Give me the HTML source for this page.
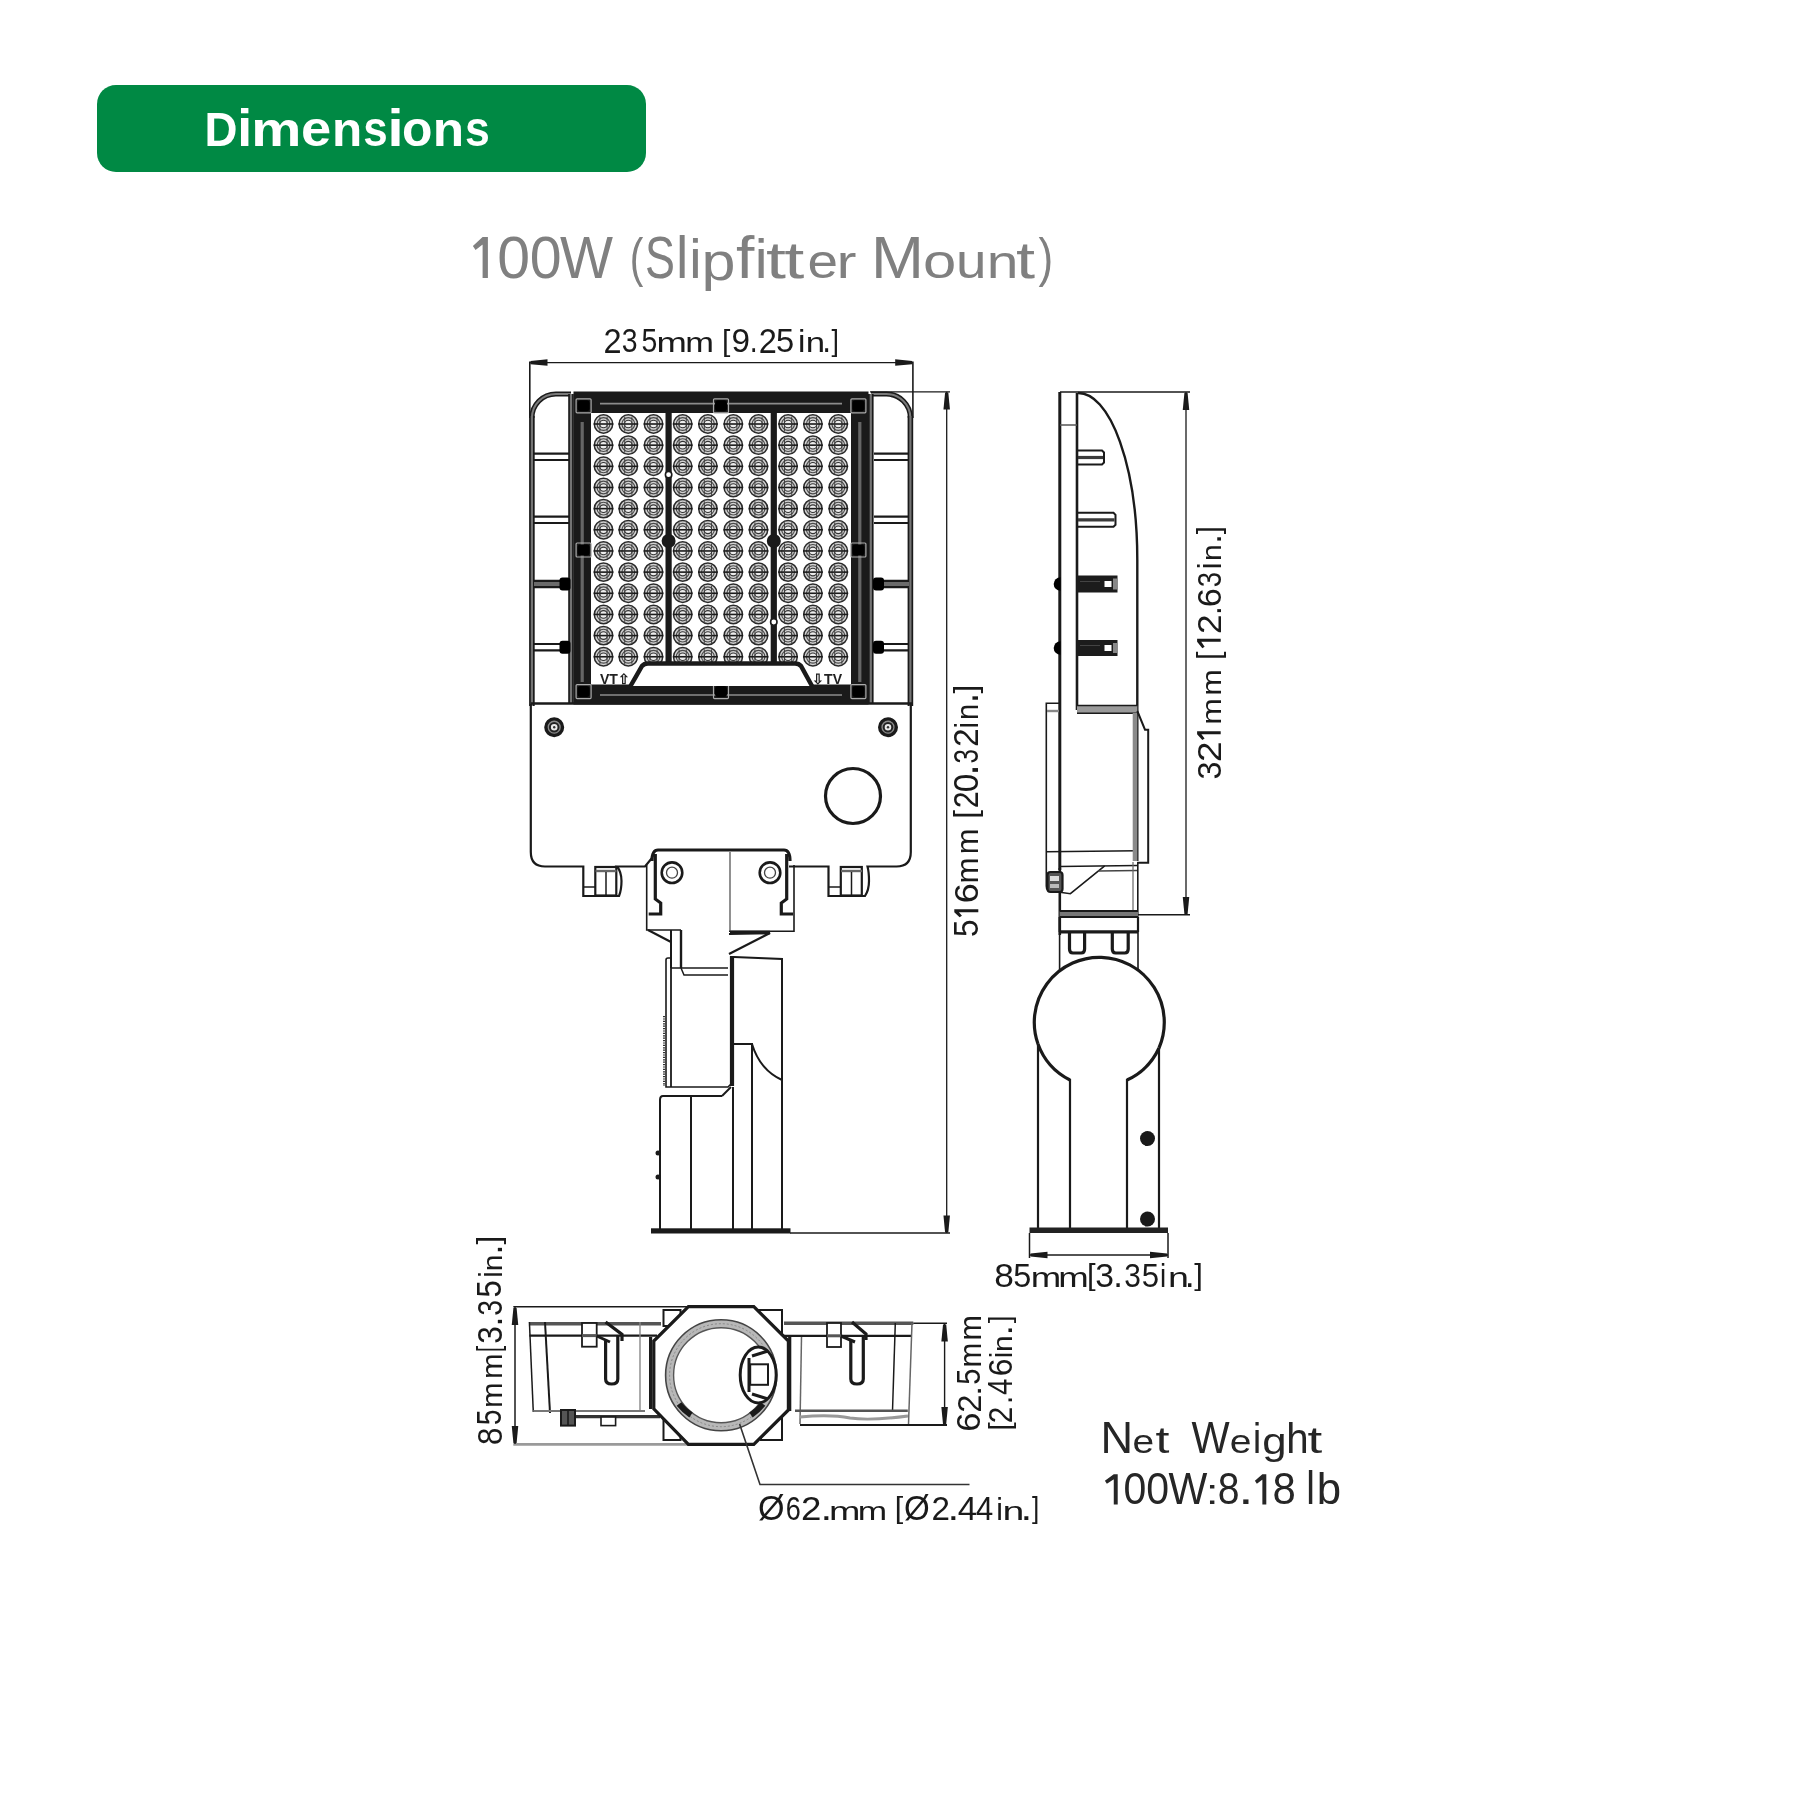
<!DOCTYPE html>
<html><head><meta charset="utf-8"><style>
html,body{margin:0;padding:0;background:#fff;}
body{width:1800px;height:1800px;position:relative;overflow:hidden;font-family:"Liberation Sans",sans-serif;}
.banner{position:absolute;left:97px;top:85px;width:549px;height:86.5px;background:#008944;border-radius:19px;}
.banner span{position:absolute;left:206px;top:0;color:#fff;}
svg{position:absolute;left:0;top:0;will-change:transform;}
</style></head><body>
<div class="banner"></div>
<svg width="1800" height="1800" viewBox="0 0 1800 1800" font-family="Liberation Sans, sans-serif">
<text x="0" y="0" font-size="1" fill="#fff" font-weight="bold" transform="matrix(45.691 0 0 47.971 204.43 145.50)">D</text>
<text x="0" y="0" font-size="1" fill="#fff" font-weight="bold" transform="matrix(53.571 0 0 51.448 237.25 145.50)">i</text>
<text x="0" y="0" font-size="1" fill="#fff" font-weight="bold" transform="matrix(56.340 0 0 48.889 251.24 145.50)">m</text>
<text x="0" y="0" font-size="1" fill="#fff" font-weight="bold" transform="matrix(54.375 0 0 49.455 301.02 145.51)">e</text>
<text x="0" y="0" font-size="1" fill="#fff" font-weight="bold" transform="matrix(49.485 0 0 48.889 332.08 145.50)">n</text>
<text x="0" y="0" font-size="1" fill="#fff" font-weight="bold" transform="matrix(43.958 0 0 49.818 363.36 145.50)">s</text>
<text x="0" y="0" font-size="1" fill="#fff" font-weight="bold" transform="matrix(57.857 0 0 51.448 387.55 145.50)">i</text>
<text x="0" y="0" font-size="1" fill="#fff" font-weight="bold" transform="matrix(49.811 0 0 49.455 402.11 145.51)">o</text>
<text x="0" y="0" font-size="1" fill="#fff" font-weight="bold" transform="matrix(51.340 0 0 48.889 432.76 145.50)">n</text>
<text x="0" y="0" font-size="1" fill="#fff" font-weight="bold" transform="matrix(44.583 0 0 49.818 465.04 145.50)">s</text>
<path d="M482.60 237.10 L487.90 237.10 L487.90 277.90 L482.60 277.90 Z M482.60 237.10 L486.84 241.34 L475.55 250.09 L472.90 246.12 Z" fill="#808080"/>
<text x="0" y="0" font-size="1" fill="#808080" transform="matrix(58.958 0 0 58.873 497.24 277.81)">0</text>
<text x="0" y="0" font-size="1" fill="#808080" transform="matrix(57.292 0 0 58.873 529.81 277.81)">0</text>
<text x="0" y="0" font-size="1" fill="#808080" transform="matrix(56.150 0 0 59.130 560.12 277.90)">W</text>
<text x="0" y="0" font-size="1" fill="#808080" transform="matrix(40.755 0 0 54.225 629.65 275.71)">(</text>
<text x="0" y="0" font-size="1" fill="#808080" transform="matrix(44.870 0 0 58.873 645.08 277.81)">S</text>
<text x="0" y="0" font-size="1" fill="#808080" transform="matrix(55.556 0 0 58.621 675.99 277.90)">l</text>
<text x="0" y="0" font-size="1" fill="#808080" transform="matrix(55.556 0 0 56.276 689.29 277.90)">i</text>
<text x="0" y="0" font-size="1" fill="#808080" transform="matrix(61.111 0 0 51.867 701.43 280.41)">p</text>
<text x="0" y="0" font-size="1" fill="#808080" transform="matrix(66.038 0 0 59.724 736.11 277.90)">f</text>
<text x="0" y="0" font-size="1" fill="#808080" transform="matrix(57.778 0 0 56.276 754.64 277.90)">i</text>
<text x="0" y="0" font-size="1" fill="#808080" transform="matrix(71.765 0 0 51.212 766.02 277.89)">t</text>
<text x="0" y="0" font-size="1" fill="#808080" transform="matrix(72.157 0 0 51.212 784.32 277.89)">t</text>
<text x="0" y="0" font-size="1" fill="#808080" transform="matrix(54.894 0 0 47.273 807.40 277.93)">e</text>
<text x="0" y="0" font-size="1" fill="#808080" transform="matrix(60.000 0 0 46.667 836.50 277.90)">r</text>
<text x="0" y="0" font-size="1" fill="#808080" transform="matrix(63.582 0 0 59.130 871.11 277.90)">M</text>
<text x="0" y="0" font-size="1" fill="#808080" transform="matrix(59.789 0 0 47.273 923.01 277.93)">o</text>
<text x="0" y="0" font-size="1" fill="#808080" transform="matrix(54.824 0 0 48.148 956.04 277.92)">u</text>
<text x="0" y="0" font-size="1" fill="#808080" transform="matrix(56.941 0 0 46.667 986.70 277.90)">n</text>
<text x="0" y="0" font-size="1" fill="#808080" transform="matrix(68.627 0 0 51.212 1016.07 277.89)">t</text>
<text x="0" y="0" font-size="1" fill="#808080" transform="matrix(44.151 0 0 54.225 1038.48 275.71)">)</text>
<text x="0" y="0" font-size="1" fill="#1a1a1a" transform="matrix(32.527 0 0 34.143 603.57 352.50)">2</text>
<text x="0" y="0" font-size="1" fill="#1a1a1a" transform="matrix(28.421 0 0 33.662 621.66 352.16)">3</text>
<text x="0" y="0" font-size="1" fill="#1a1a1a" transform="matrix(28.421 0 0 34.143 641.46 352.16)">5</text>
<text x="0" y="0" font-size="1" fill="#1a1a1a" transform="matrix(36.454 0 0 27.593 656.53 352.30)">m</text>
<text x="0" y="0" font-size="1" fill="#1a1a1a" transform="matrix(34.468 0 0 27.593 685.26 352.30)">m</text>
<text x="0" y="0" font-size="1" fill="#1a1a1a" transform="matrix(30.000 0 0 29.733 722.10 350.76)">[</text>
<text x="0" y="0" font-size="1" fill="#1a1a1a" transform="matrix(33.333 0 0 33.662 731.60 352.16)">9</text>
<text x="0" y="0" font-size="1" fill="#1a1a1a" transform="matrix(28.421 0 0 35.238 749.84 352.30)">.</text>
<text x="0" y="0" font-size="1" fill="#1a1a1a" transform="matrix(32.527 0 0 34.143 758.67 352.50)">2</text>
<text x="0" y="0" font-size="1" fill="#1a1a1a" transform="matrix(32.632 0 0 34.143 775.99 352.16)">5</text>
<text x="0" y="0" font-size="1" fill="#1a1a1a" transform="matrix(33.333 0 0 31.862 798.03 352.30)">i</text>
<text x="0" y="0" font-size="1" fill="#1a1a1a" transform="matrix(34.824 0 0 27.593 805.64 352.30)">n</text>
<text x="0" y="0" font-size="1" fill="#1a1a1a" transform="matrix(31.579 0 0 35.238 822.36 352.30)">.</text>
<text x="0" y="0" font-size="1" fill="#1a1a1a" transform="matrix(26.500 0 0 29.733 831.57 350.76)">]</text>
<line x1="529.8" y1="361.5" x2="529.8" y2="418" stroke="#1a1a1a" stroke-width="1.6"/>
<line x1="912.9" y1="361.5" x2="912.9" y2="418" stroke="#1a1a1a" stroke-width="1.6"/>
<line x1="529.8" y1="362.6" x2="912.9" y2="362.6" stroke="#1a1a1a" stroke-width="1.3"/>
<path d="M530.5 361.0 L530.5 364.20000000000005 L547.5 365.85 L547.5 359.35 Z" fill="#1a1a1a"/>
<path d="M912.2 361.0 L912.2 364.20000000000005 L895.2 365.85 L895.2 359.35 Z" fill="#1a1a1a"/>
<line x1="870" y1="391.8" x2="950" y2="391.8" stroke="#1a1a1a" stroke-width="1.3"/>
<line x1="946.7" y1="391.8" x2="946.7" y2="1233" stroke="#1a1a1a" stroke-width="1.3"/>
<path d="M945.1 392.5 L948.3000000000001 392.5 L949.95 409.5 L943.45 409.5 Z" fill="#1a1a1a"/>
<path d="M945.1 1232.5 L948.3000000000001 1232.5 L949.95 1215.5 L943.45 1215.5 Z" fill="#1a1a1a"/>
<line x1="790" y1="1233" x2="950" y2="1233" stroke="#1a1a1a" stroke-width="1.6"/>
<g transform="matrix(0 -1 1 0 0 0)">
<text x="0" y="0" font-size="1" fill="#1a1a1a" transform="matrix(31.368 0 0 34.286 -936.95 977.96)">5</text>
<path d="M-912.32 954.30 L-909.20 954.30 L-909.20 978.30 L-912.32 978.30 Z M-912.32 954.30 L-909.82 956.80 L-915.74 961.94 L-917.30 959.60 Z" fill="#1a1a1a"/>
<text x="0" y="0" font-size="1" fill="#1a1a1a" transform="matrix(35.914 0 0 34.085 -903.20 978.16)">6</text>
<text x="0" y="0" font-size="1" fill="#1a1a1a" transform="matrix(31.348 0 0 31.667 -883.54 978.30)">m</text>
<text x="0" y="0" font-size="1" fill="#1a1a1a" transform="matrix(30.922 0 0 31.667 -854.31 978.30)">m</text>
<text x="0" y="0" font-size="1" fill="#1a1a1a" transform="matrix(31.500 0 0 32.193 -818.81 975.84)">[</text>
<text x="0" y="0" font-size="1" fill="#1a1a1a" transform="matrix(30.549 0 0 34.286 -808.33 978.30)">2</text>
<text x="0" y="0" font-size="1" fill="#1a1a1a" transform="matrix(33.333 0 0 34.648 -792.23 978.25)">0</text>
<text x="0" y="0" font-size="1" fill="#1a1a1a" transform="matrix(40.000 0 0 51.429 -775.40 978.30)">.</text>
<text x="0" y="0" font-size="1" fill="#1a1a1a" transform="matrix(26.105 0 0 34.648 -763.44 978.25)">3</text>
<text x="0" y="0" font-size="1" fill="#1a1a1a" transform="matrix(33.626 0 0 34.286 -747.08 978.30)">2</text>
<text x="0" y="0" font-size="1" fill="#1a1a1a" transform="matrix(27.778 0 0 33.103 -728.21 978.30)">i</text>
<text x="0" y="0" font-size="1" fill="#1a1a1a" transform="matrix(29.176 0 0 31.667 -719.90 978.30)">n</text>
<text x="0" y="0" font-size="1" fill="#1a1a1a" transform="matrix(35.789 0 0 51.429 -703.12 978.30)">.</text>
<text x="0" y="0" font-size="1" fill="#1a1a1a" transform="matrix(31.000 0 0 32.193 -693.56 975.84)">]</text>
</g>
<path d="M531.9 418 A24 24 0 0 1 555.9 394 L571 394" stroke="#1a1a1a" stroke-width="5.2" fill="none"/>
<path d="M531.9 418 A24 24 0 0 1 555.9 394 L571 394" stroke="#7a7a7a" stroke-width="2.0" fill="none"/>
<path d="M910.4 418 A24 24 0 0 0 886.4 394 L871 394" stroke="#1a1a1a" stroke-width="5.2" fill="none"/>
<path d="M910.4 418 A24 24 0 0 0 886.4 394 L871 394" stroke="#7a7a7a" stroke-width="2.0" fill="none"/>
<line x1="531.9" y1="416" x2="531.9" y2="706" stroke="#1a1a1a" stroke-width="5.6"/>
<line x1="531.9" y1="416" x2="531.9" y2="706" stroke="#747474" stroke-width="2.2"/>
<line x1="910.4" y1="416" x2="910.4" y2="706" stroke="#1a1a1a" stroke-width="5.6"/>
<line x1="910.4" y1="416" x2="910.4" y2="706" stroke="#747474" stroke-width="2.2"/>
<line x1="571.0" y1="394" x2="571.0" y2="704" stroke="#1a1a1a" stroke-width="5.6"/>
<line x1="571.0" y1="394" x2="571.0" y2="704" stroke="#747474" stroke-width="2.2"/>
<line x1="870.8" y1="394" x2="870.8" y2="704" stroke="#1a1a1a" stroke-width="5.6"/>
<line x1="870.8" y1="394" x2="870.8" y2="704" stroke="#747474" stroke-width="2.2"/>
<line x1="534" y1="453.6" x2="569" y2="453.6" stroke="#1a1a1a" stroke-width="2.2"/>
<line x1="534" y1="460.0" x2="569" y2="460.0" stroke="#1a1a1a" stroke-width="2.2"/>
<line x1="874" y1="453.6" x2="909" y2="453.6" stroke="#1a1a1a" stroke-width="2.2"/>
<line x1="874" y1="460.0" x2="909" y2="460.0" stroke="#1a1a1a" stroke-width="2.2"/>
<line x1="534" y1="516.5999999999999" x2="569" y2="516.5999999999999" stroke="#1a1a1a" stroke-width="2.2"/>
<line x1="534" y1="523.0" x2="569" y2="523.0" stroke="#1a1a1a" stroke-width="2.2"/>
<line x1="874" y1="516.5999999999999" x2="909" y2="516.5999999999999" stroke="#1a1a1a" stroke-width="2.2"/>
<line x1="874" y1="523.0" x2="909" y2="523.0" stroke="#1a1a1a" stroke-width="2.2"/>
<rect x="534" y="580.5" width="35" height="7" rx="0" stroke="#1a1a1a" stroke-width="0" fill="#6a6a6a"/>
<rect x="874" y="580.5" width="35" height="7" rx="0" stroke="#1a1a1a" stroke-width="0" fill="#6a6a6a"/>
<line x1="534" y1="580.8" x2="569" y2="580.8" stroke="#1a1a1a" stroke-width="2.2"/>
<line x1="534" y1="587.2" x2="569" y2="587.2" stroke="#1a1a1a" stroke-width="2.2"/>
<line x1="874" y1="580.8" x2="909" y2="580.8" stroke="#1a1a1a" stroke-width="2.2"/>
<line x1="874" y1="587.2" x2="909" y2="587.2" stroke="#1a1a1a" stroke-width="2.2"/>
<line x1="534" y1="644.0" x2="569" y2="644.0" stroke="#1a1a1a" stroke-width="2.2"/>
<line x1="534" y1="650.4000000000001" x2="569" y2="650.4000000000001" stroke="#1a1a1a" stroke-width="2.2"/>
<line x1="874" y1="644.0" x2="909" y2="644.0" stroke="#1a1a1a" stroke-width="2.2"/>
<line x1="874" y1="650.4000000000001" x2="909" y2="650.4000000000001" stroke="#1a1a1a" stroke-width="2.2"/>
<rect x="559.5" y="577.5" width="11" height="13" rx="3" stroke="#1a1a1a" stroke-width="0" fill="#000"/>
<rect x="873" y="577.5" width="11" height="13" rx="3" stroke="#1a1a1a" stroke-width="0" fill="#000"/>
<rect x="559.5" y="640.7" width="11" height="13" rx="3" stroke="#1a1a1a" stroke-width="0" fill="#000"/>
<rect x="873" y="640.7" width="11" height="13" rx="3" stroke="#1a1a1a" stroke-width="0" fill="#000"/>
<line x1="531" y1="703.5" x2="912" y2="703.5" stroke="#1a1a1a" stroke-width="2.5"/>
<rect x="573.5" y="391.5" width="295" height="313" rx="0" stroke="#1a1a1a" stroke-width="0" fill="#1a1a1a"/>
<rect x="591" y="413" width="260" height="271.5" rx="0" stroke="#1a1a1a" stroke-width="0" fill="#fff"/>
<line x1="600" y1="403.6" x2="842" y2="403.6" stroke="#8c8c8c" stroke-width="1.6"/>
<line x1="600" y1="695" x2="842" y2="695" stroke="#8c8c8c" stroke-width="1.6"/>
<line x1="582.2" y1="422" x2="582.2" y2="682" stroke="#666" stroke-width="3.2"/>
<line x1="859.8" y1="422" x2="859.8" y2="682" stroke="#666" stroke-width="3.2"/>
<rect x="576.1" y="398.8" width="15" height="14" rx="1" stroke="#aaa" stroke-width="1.2" fill="none"/>
<rect x="577.6" y="400.3" width="12" height="11" rx="3" stroke="#1a1a1a" stroke-width="0" fill="#000"/>
<rect x="850.9" y="398.8" width="15" height="14" rx="1" stroke="#aaa" stroke-width="1.2" fill="none"/>
<rect x="852.4" y="400.3" width="12" height="11" rx="3" stroke="#1a1a1a" stroke-width="0" fill="#000"/>
<rect x="576.1" y="684.6" width="15" height="14" rx="1" stroke="#aaa" stroke-width="1.2" fill="none"/>
<rect x="577.6" y="686.1" width="12" height="11" rx="3" stroke="#1a1a1a" stroke-width="0" fill="#000"/>
<rect x="850.9" y="684.6" width="15" height="14" rx="1" stroke="#aaa" stroke-width="1.2" fill="none"/>
<rect x="852.4" y="686.1" width="12" height="11" rx="3" stroke="#1a1a1a" stroke-width="0" fill="#000"/>
<rect x="713.5" y="398.8" width="15" height="14" rx="1" stroke="#aaa" stroke-width="1.2" fill="none"/>
<rect x="715" y="400.3" width="12" height="11" rx="3" stroke="#1a1a1a" stroke-width="0" fill="#000"/>
<rect x="713.5" y="684.6" width="15" height="14" rx="1" stroke="#aaa" stroke-width="1.2" fill="none"/>
<rect x="715" y="686.1" width="12" height="11" rx="3" stroke="#1a1a1a" stroke-width="0" fill="#000"/>
<rect x="576.1" y="543" width="15" height="14" rx="1" stroke="#aaa" stroke-width="1.2" fill="none"/>
<rect x="577.6" y="544.5" width="12" height="11" rx="3" stroke="#1a1a1a" stroke-width="0" fill="#000"/>
<rect x="850.9" y="543" width="15" height="14" rx="1" stroke="#aaa" stroke-width="1.2" fill="none"/>
<rect x="852.4" y="544.5" width="12" height="11" rx="3" stroke="#1a1a1a" stroke-width="0" fill="#000"/>
<g transform="translate(603.5 424.00)"><circle r="9.2" fill="#d2d2d2" stroke="#2a2a2a" stroke-width="1.5"/><circle r="6.4" fill="none" stroke="#4a4a4a" stroke-width="1.1"/><circle r="3.8" fill="#ececec" stroke="#333" stroke-width="1.1"/><line x1="-9.8" y1="0" x2="9.8" y2="0" stroke="#1a1a1a" stroke-width="1.6"/><line x1="-3.6" y1="-7.5" x2="-3.6" y2="7.5" stroke="#3a3a3a" stroke-width="0.9"/><line x1="3.6" y1="-7.5" x2="3.6" y2="7.5" stroke="#3a3a3a" stroke-width="0.9"/></g>
<g transform="translate(628.3 424.00)"><circle r="9.2" fill="#d2d2d2" stroke="#2a2a2a" stroke-width="1.5"/><circle r="6.4" fill="none" stroke="#4a4a4a" stroke-width="1.1"/><circle r="3.8" fill="#ececec" stroke="#333" stroke-width="1.1"/><line x1="-9.8" y1="0" x2="9.8" y2="0" stroke="#1a1a1a" stroke-width="1.6"/><line x1="-3.6" y1="-7.5" x2="-3.6" y2="7.5" stroke="#3a3a3a" stroke-width="0.9"/><line x1="3.6" y1="-7.5" x2="3.6" y2="7.5" stroke="#3a3a3a" stroke-width="0.9"/></g>
<g transform="translate(653.5 424.00)"><circle r="9.2" fill="#d2d2d2" stroke="#2a2a2a" stroke-width="1.5"/><circle r="6.4" fill="none" stroke="#4a4a4a" stroke-width="1.1"/><circle r="3.8" fill="#ececec" stroke="#333" stroke-width="1.1"/><line x1="-9.8" y1="0" x2="9.8" y2="0" stroke="#1a1a1a" stroke-width="1.6"/><line x1="-3.6" y1="-7.5" x2="-3.6" y2="7.5" stroke="#3a3a3a" stroke-width="0.9"/><line x1="3.6" y1="-7.5" x2="3.6" y2="7.5" stroke="#3a3a3a" stroke-width="0.9"/></g>
<g transform="translate(682.7 424.00)"><circle r="9.2" fill="#d2d2d2" stroke="#2a2a2a" stroke-width="1.5"/><circle r="6.4" fill="none" stroke="#4a4a4a" stroke-width="1.1"/><circle r="3.8" fill="#ececec" stroke="#333" stroke-width="1.1"/><line x1="-9.8" y1="0" x2="9.8" y2="0" stroke="#1a1a1a" stroke-width="1.6"/><line x1="-3.6" y1="-7.5" x2="-3.6" y2="7.5" stroke="#3a3a3a" stroke-width="0.9"/><line x1="3.6" y1="-7.5" x2="3.6" y2="7.5" stroke="#3a3a3a" stroke-width="0.9"/></g>
<g transform="translate(707.9 424.00)"><circle r="9.2" fill="#d2d2d2" stroke="#2a2a2a" stroke-width="1.5"/><circle r="6.4" fill="none" stroke="#4a4a4a" stroke-width="1.1"/><circle r="3.8" fill="#ececec" stroke="#333" stroke-width="1.1"/><line x1="-9.8" y1="0" x2="9.8" y2="0" stroke="#1a1a1a" stroke-width="1.6"/><line x1="-3.6" y1="-7.5" x2="-3.6" y2="7.5" stroke="#3a3a3a" stroke-width="0.9"/><line x1="3.6" y1="-7.5" x2="3.6" y2="7.5" stroke="#3a3a3a" stroke-width="0.9"/></g>
<g transform="translate(733.3 424.00)"><circle r="9.2" fill="#d2d2d2" stroke="#2a2a2a" stroke-width="1.5"/><circle r="6.4" fill="none" stroke="#4a4a4a" stroke-width="1.1"/><circle r="3.8" fill="#ececec" stroke="#333" stroke-width="1.1"/><line x1="-9.8" y1="0" x2="9.8" y2="0" stroke="#1a1a1a" stroke-width="1.6"/><line x1="-3.6" y1="-7.5" x2="-3.6" y2="7.5" stroke="#3a3a3a" stroke-width="0.9"/><line x1="3.6" y1="-7.5" x2="3.6" y2="7.5" stroke="#3a3a3a" stroke-width="0.9"/></g>
<g transform="translate(758.5 424.00)"><circle r="9.2" fill="#d2d2d2" stroke="#2a2a2a" stroke-width="1.5"/><circle r="6.4" fill="none" stroke="#4a4a4a" stroke-width="1.1"/><circle r="3.8" fill="#ececec" stroke="#333" stroke-width="1.1"/><line x1="-9.8" y1="0" x2="9.8" y2="0" stroke="#1a1a1a" stroke-width="1.6"/><line x1="-3.6" y1="-7.5" x2="-3.6" y2="7.5" stroke="#3a3a3a" stroke-width="0.9"/><line x1="3.6" y1="-7.5" x2="3.6" y2="7.5" stroke="#3a3a3a" stroke-width="0.9"/></g>
<g transform="translate(788.1 424.00)"><circle r="9.2" fill="#d2d2d2" stroke="#2a2a2a" stroke-width="1.5"/><circle r="6.4" fill="none" stroke="#4a4a4a" stroke-width="1.1"/><circle r="3.8" fill="#ececec" stroke="#333" stroke-width="1.1"/><line x1="-9.8" y1="0" x2="9.8" y2="0" stroke="#1a1a1a" stroke-width="1.6"/><line x1="-3.6" y1="-7.5" x2="-3.6" y2="7.5" stroke="#3a3a3a" stroke-width="0.9"/><line x1="3.6" y1="-7.5" x2="3.6" y2="7.5" stroke="#3a3a3a" stroke-width="0.9"/></g>
<g transform="translate(812.9 424.00)"><circle r="9.2" fill="#d2d2d2" stroke="#2a2a2a" stroke-width="1.5"/><circle r="6.4" fill="none" stroke="#4a4a4a" stroke-width="1.1"/><circle r="3.8" fill="#ececec" stroke="#333" stroke-width="1.1"/><line x1="-9.8" y1="0" x2="9.8" y2="0" stroke="#1a1a1a" stroke-width="1.6"/><line x1="-3.6" y1="-7.5" x2="-3.6" y2="7.5" stroke="#3a3a3a" stroke-width="0.9"/><line x1="3.6" y1="-7.5" x2="3.6" y2="7.5" stroke="#3a3a3a" stroke-width="0.9"/></g>
<g transform="translate(838.3 424.00)"><circle r="9.2" fill="#d2d2d2" stroke="#2a2a2a" stroke-width="1.5"/><circle r="6.4" fill="none" stroke="#4a4a4a" stroke-width="1.1"/><circle r="3.8" fill="#ececec" stroke="#333" stroke-width="1.1"/><line x1="-9.8" y1="0" x2="9.8" y2="0" stroke="#1a1a1a" stroke-width="1.6"/><line x1="-3.6" y1="-7.5" x2="-3.6" y2="7.5" stroke="#3a3a3a" stroke-width="0.9"/><line x1="3.6" y1="-7.5" x2="3.6" y2="7.5" stroke="#3a3a3a" stroke-width="0.9"/></g>
<g transform="translate(603.5 445.16)"><circle r="9.2" fill="#d2d2d2" stroke="#2a2a2a" stroke-width="1.5"/><circle r="6.4" fill="none" stroke="#4a4a4a" stroke-width="1.1"/><circle r="3.8" fill="#ececec" stroke="#333" stroke-width="1.1"/><line x1="-9.8" y1="0" x2="9.8" y2="0" stroke="#1a1a1a" stroke-width="1.6"/><line x1="-3.6" y1="-7.5" x2="-3.6" y2="7.5" stroke="#3a3a3a" stroke-width="0.9"/><line x1="3.6" y1="-7.5" x2="3.6" y2="7.5" stroke="#3a3a3a" stroke-width="0.9"/></g>
<g transform="translate(628.3 445.16)"><circle r="9.2" fill="#d2d2d2" stroke="#2a2a2a" stroke-width="1.5"/><circle r="6.4" fill="none" stroke="#4a4a4a" stroke-width="1.1"/><circle r="3.8" fill="#ececec" stroke="#333" stroke-width="1.1"/><line x1="-9.8" y1="0" x2="9.8" y2="0" stroke="#1a1a1a" stroke-width="1.6"/><line x1="-3.6" y1="-7.5" x2="-3.6" y2="7.5" stroke="#3a3a3a" stroke-width="0.9"/><line x1="3.6" y1="-7.5" x2="3.6" y2="7.5" stroke="#3a3a3a" stroke-width="0.9"/></g>
<g transform="translate(653.5 445.16)"><circle r="9.2" fill="#d2d2d2" stroke="#2a2a2a" stroke-width="1.5"/><circle r="6.4" fill="none" stroke="#4a4a4a" stroke-width="1.1"/><circle r="3.8" fill="#ececec" stroke="#333" stroke-width="1.1"/><line x1="-9.8" y1="0" x2="9.8" y2="0" stroke="#1a1a1a" stroke-width="1.6"/><line x1="-3.6" y1="-7.5" x2="-3.6" y2="7.5" stroke="#3a3a3a" stroke-width="0.9"/><line x1="3.6" y1="-7.5" x2="3.6" y2="7.5" stroke="#3a3a3a" stroke-width="0.9"/></g>
<g transform="translate(682.7 445.16)"><circle r="9.2" fill="#d2d2d2" stroke="#2a2a2a" stroke-width="1.5"/><circle r="6.4" fill="none" stroke="#4a4a4a" stroke-width="1.1"/><circle r="3.8" fill="#ececec" stroke="#333" stroke-width="1.1"/><line x1="-9.8" y1="0" x2="9.8" y2="0" stroke="#1a1a1a" stroke-width="1.6"/><line x1="-3.6" y1="-7.5" x2="-3.6" y2="7.5" stroke="#3a3a3a" stroke-width="0.9"/><line x1="3.6" y1="-7.5" x2="3.6" y2="7.5" stroke="#3a3a3a" stroke-width="0.9"/></g>
<g transform="translate(707.9 445.16)"><circle r="9.2" fill="#d2d2d2" stroke="#2a2a2a" stroke-width="1.5"/><circle r="6.4" fill="none" stroke="#4a4a4a" stroke-width="1.1"/><circle r="3.8" fill="#ececec" stroke="#333" stroke-width="1.1"/><line x1="-9.8" y1="0" x2="9.8" y2="0" stroke="#1a1a1a" stroke-width="1.6"/><line x1="-3.6" y1="-7.5" x2="-3.6" y2="7.5" stroke="#3a3a3a" stroke-width="0.9"/><line x1="3.6" y1="-7.5" x2="3.6" y2="7.5" stroke="#3a3a3a" stroke-width="0.9"/></g>
<g transform="translate(733.3 445.16)"><circle r="9.2" fill="#d2d2d2" stroke="#2a2a2a" stroke-width="1.5"/><circle r="6.4" fill="none" stroke="#4a4a4a" stroke-width="1.1"/><circle r="3.8" fill="#ececec" stroke="#333" stroke-width="1.1"/><line x1="-9.8" y1="0" x2="9.8" y2="0" stroke="#1a1a1a" stroke-width="1.6"/><line x1="-3.6" y1="-7.5" x2="-3.6" y2="7.5" stroke="#3a3a3a" stroke-width="0.9"/><line x1="3.6" y1="-7.5" x2="3.6" y2="7.5" stroke="#3a3a3a" stroke-width="0.9"/></g>
<g transform="translate(758.5 445.16)"><circle r="9.2" fill="#d2d2d2" stroke="#2a2a2a" stroke-width="1.5"/><circle r="6.4" fill="none" stroke="#4a4a4a" stroke-width="1.1"/><circle r="3.8" fill="#ececec" stroke="#333" stroke-width="1.1"/><line x1="-9.8" y1="0" x2="9.8" y2="0" stroke="#1a1a1a" stroke-width="1.6"/><line x1="-3.6" y1="-7.5" x2="-3.6" y2="7.5" stroke="#3a3a3a" stroke-width="0.9"/><line x1="3.6" y1="-7.5" x2="3.6" y2="7.5" stroke="#3a3a3a" stroke-width="0.9"/></g>
<g transform="translate(788.1 445.16)"><circle r="9.2" fill="#d2d2d2" stroke="#2a2a2a" stroke-width="1.5"/><circle r="6.4" fill="none" stroke="#4a4a4a" stroke-width="1.1"/><circle r="3.8" fill="#ececec" stroke="#333" stroke-width="1.1"/><line x1="-9.8" y1="0" x2="9.8" y2="0" stroke="#1a1a1a" stroke-width="1.6"/><line x1="-3.6" y1="-7.5" x2="-3.6" y2="7.5" stroke="#3a3a3a" stroke-width="0.9"/><line x1="3.6" y1="-7.5" x2="3.6" y2="7.5" stroke="#3a3a3a" stroke-width="0.9"/></g>
<g transform="translate(812.9 445.16)"><circle r="9.2" fill="#d2d2d2" stroke="#2a2a2a" stroke-width="1.5"/><circle r="6.4" fill="none" stroke="#4a4a4a" stroke-width="1.1"/><circle r="3.8" fill="#ececec" stroke="#333" stroke-width="1.1"/><line x1="-9.8" y1="0" x2="9.8" y2="0" stroke="#1a1a1a" stroke-width="1.6"/><line x1="-3.6" y1="-7.5" x2="-3.6" y2="7.5" stroke="#3a3a3a" stroke-width="0.9"/><line x1="3.6" y1="-7.5" x2="3.6" y2="7.5" stroke="#3a3a3a" stroke-width="0.9"/></g>
<g transform="translate(838.3 445.16)"><circle r="9.2" fill="#d2d2d2" stroke="#2a2a2a" stroke-width="1.5"/><circle r="6.4" fill="none" stroke="#4a4a4a" stroke-width="1.1"/><circle r="3.8" fill="#ececec" stroke="#333" stroke-width="1.1"/><line x1="-9.8" y1="0" x2="9.8" y2="0" stroke="#1a1a1a" stroke-width="1.6"/><line x1="-3.6" y1="-7.5" x2="-3.6" y2="7.5" stroke="#3a3a3a" stroke-width="0.9"/><line x1="3.6" y1="-7.5" x2="3.6" y2="7.5" stroke="#3a3a3a" stroke-width="0.9"/></g>
<g transform="translate(603.5 466.32)"><circle r="9.2" fill="#d2d2d2" stroke="#2a2a2a" stroke-width="1.5"/><circle r="6.4" fill="none" stroke="#4a4a4a" stroke-width="1.1"/><circle r="3.8" fill="#ececec" stroke="#333" stroke-width="1.1"/><line x1="-9.8" y1="0" x2="9.8" y2="0" stroke="#1a1a1a" stroke-width="1.6"/><line x1="-3.6" y1="-7.5" x2="-3.6" y2="7.5" stroke="#3a3a3a" stroke-width="0.9"/><line x1="3.6" y1="-7.5" x2="3.6" y2="7.5" stroke="#3a3a3a" stroke-width="0.9"/></g>
<g transform="translate(628.3 466.32)"><circle r="9.2" fill="#d2d2d2" stroke="#2a2a2a" stroke-width="1.5"/><circle r="6.4" fill="none" stroke="#4a4a4a" stroke-width="1.1"/><circle r="3.8" fill="#ececec" stroke="#333" stroke-width="1.1"/><line x1="-9.8" y1="0" x2="9.8" y2="0" stroke="#1a1a1a" stroke-width="1.6"/><line x1="-3.6" y1="-7.5" x2="-3.6" y2="7.5" stroke="#3a3a3a" stroke-width="0.9"/><line x1="3.6" y1="-7.5" x2="3.6" y2="7.5" stroke="#3a3a3a" stroke-width="0.9"/></g>
<g transform="translate(653.5 466.32)"><circle r="9.2" fill="#d2d2d2" stroke="#2a2a2a" stroke-width="1.5"/><circle r="6.4" fill="none" stroke="#4a4a4a" stroke-width="1.1"/><circle r="3.8" fill="#ececec" stroke="#333" stroke-width="1.1"/><line x1="-9.8" y1="0" x2="9.8" y2="0" stroke="#1a1a1a" stroke-width="1.6"/><line x1="-3.6" y1="-7.5" x2="-3.6" y2="7.5" stroke="#3a3a3a" stroke-width="0.9"/><line x1="3.6" y1="-7.5" x2="3.6" y2="7.5" stroke="#3a3a3a" stroke-width="0.9"/></g>
<g transform="translate(682.7 466.32)"><circle r="9.2" fill="#d2d2d2" stroke="#2a2a2a" stroke-width="1.5"/><circle r="6.4" fill="none" stroke="#4a4a4a" stroke-width="1.1"/><circle r="3.8" fill="#ececec" stroke="#333" stroke-width="1.1"/><line x1="-9.8" y1="0" x2="9.8" y2="0" stroke="#1a1a1a" stroke-width="1.6"/><line x1="-3.6" y1="-7.5" x2="-3.6" y2="7.5" stroke="#3a3a3a" stroke-width="0.9"/><line x1="3.6" y1="-7.5" x2="3.6" y2="7.5" stroke="#3a3a3a" stroke-width="0.9"/></g>
<g transform="translate(707.9 466.32)"><circle r="9.2" fill="#d2d2d2" stroke="#2a2a2a" stroke-width="1.5"/><circle r="6.4" fill="none" stroke="#4a4a4a" stroke-width="1.1"/><circle r="3.8" fill="#ececec" stroke="#333" stroke-width="1.1"/><line x1="-9.8" y1="0" x2="9.8" y2="0" stroke="#1a1a1a" stroke-width="1.6"/><line x1="-3.6" y1="-7.5" x2="-3.6" y2="7.5" stroke="#3a3a3a" stroke-width="0.9"/><line x1="3.6" y1="-7.5" x2="3.6" y2="7.5" stroke="#3a3a3a" stroke-width="0.9"/></g>
<g transform="translate(733.3 466.32)"><circle r="9.2" fill="#d2d2d2" stroke="#2a2a2a" stroke-width="1.5"/><circle r="6.4" fill="none" stroke="#4a4a4a" stroke-width="1.1"/><circle r="3.8" fill="#ececec" stroke="#333" stroke-width="1.1"/><line x1="-9.8" y1="0" x2="9.8" y2="0" stroke="#1a1a1a" stroke-width="1.6"/><line x1="-3.6" y1="-7.5" x2="-3.6" y2="7.5" stroke="#3a3a3a" stroke-width="0.9"/><line x1="3.6" y1="-7.5" x2="3.6" y2="7.5" stroke="#3a3a3a" stroke-width="0.9"/></g>
<g transform="translate(758.5 466.32)"><circle r="9.2" fill="#d2d2d2" stroke="#2a2a2a" stroke-width="1.5"/><circle r="6.4" fill="none" stroke="#4a4a4a" stroke-width="1.1"/><circle r="3.8" fill="#ececec" stroke="#333" stroke-width="1.1"/><line x1="-9.8" y1="0" x2="9.8" y2="0" stroke="#1a1a1a" stroke-width="1.6"/><line x1="-3.6" y1="-7.5" x2="-3.6" y2="7.5" stroke="#3a3a3a" stroke-width="0.9"/><line x1="3.6" y1="-7.5" x2="3.6" y2="7.5" stroke="#3a3a3a" stroke-width="0.9"/></g>
<g transform="translate(788.1 466.32)"><circle r="9.2" fill="#d2d2d2" stroke="#2a2a2a" stroke-width="1.5"/><circle r="6.4" fill="none" stroke="#4a4a4a" stroke-width="1.1"/><circle r="3.8" fill="#ececec" stroke="#333" stroke-width="1.1"/><line x1="-9.8" y1="0" x2="9.8" y2="0" stroke="#1a1a1a" stroke-width="1.6"/><line x1="-3.6" y1="-7.5" x2="-3.6" y2="7.5" stroke="#3a3a3a" stroke-width="0.9"/><line x1="3.6" y1="-7.5" x2="3.6" y2="7.5" stroke="#3a3a3a" stroke-width="0.9"/></g>
<g transform="translate(812.9 466.32)"><circle r="9.2" fill="#d2d2d2" stroke="#2a2a2a" stroke-width="1.5"/><circle r="6.4" fill="none" stroke="#4a4a4a" stroke-width="1.1"/><circle r="3.8" fill="#ececec" stroke="#333" stroke-width="1.1"/><line x1="-9.8" y1="0" x2="9.8" y2="0" stroke="#1a1a1a" stroke-width="1.6"/><line x1="-3.6" y1="-7.5" x2="-3.6" y2="7.5" stroke="#3a3a3a" stroke-width="0.9"/><line x1="3.6" y1="-7.5" x2="3.6" y2="7.5" stroke="#3a3a3a" stroke-width="0.9"/></g>
<g transform="translate(838.3 466.32)"><circle r="9.2" fill="#d2d2d2" stroke="#2a2a2a" stroke-width="1.5"/><circle r="6.4" fill="none" stroke="#4a4a4a" stroke-width="1.1"/><circle r="3.8" fill="#ececec" stroke="#333" stroke-width="1.1"/><line x1="-9.8" y1="0" x2="9.8" y2="0" stroke="#1a1a1a" stroke-width="1.6"/><line x1="-3.6" y1="-7.5" x2="-3.6" y2="7.5" stroke="#3a3a3a" stroke-width="0.9"/><line x1="3.6" y1="-7.5" x2="3.6" y2="7.5" stroke="#3a3a3a" stroke-width="0.9"/></g>
<g transform="translate(603.5 487.48)"><circle r="9.2" fill="#d2d2d2" stroke="#2a2a2a" stroke-width="1.5"/><circle r="6.4" fill="none" stroke="#4a4a4a" stroke-width="1.1"/><circle r="3.8" fill="#ececec" stroke="#333" stroke-width="1.1"/><line x1="-9.8" y1="0" x2="9.8" y2="0" stroke="#1a1a1a" stroke-width="1.6"/><line x1="-3.6" y1="-7.5" x2="-3.6" y2="7.5" stroke="#3a3a3a" stroke-width="0.9"/><line x1="3.6" y1="-7.5" x2="3.6" y2="7.5" stroke="#3a3a3a" stroke-width="0.9"/></g>
<g transform="translate(628.3 487.48)"><circle r="9.2" fill="#d2d2d2" stroke="#2a2a2a" stroke-width="1.5"/><circle r="6.4" fill="none" stroke="#4a4a4a" stroke-width="1.1"/><circle r="3.8" fill="#ececec" stroke="#333" stroke-width="1.1"/><line x1="-9.8" y1="0" x2="9.8" y2="0" stroke="#1a1a1a" stroke-width="1.6"/><line x1="-3.6" y1="-7.5" x2="-3.6" y2="7.5" stroke="#3a3a3a" stroke-width="0.9"/><line x1="3.6" y1="-7.5" x2="3.6" y2="7.5" stroke="#3a3a3a" stroke-width="0.9"/></g>
<g transform="translate(653.5 487.48)"><circle r="9.2" fill="#d2d2d2" stroke="#2a2a2a" stroke-width="1.5"/><circle r="6.4" fill="none" stroke="#4a4a4a" stroke-width="1.1"/><circle r="3.8" fill="#ececec" stroke="#333" stroke-width="1.1"/><line x1="-9.8" y1="0" x2="9.8" y2="0" stroke="#1a1a1a" stroke-width="1.6"/><line x1="-3.6" y1="-7.5" x2="-3.6" y2="7.5" stroke="#3a3a3a" stroke-width="0.9"/><line x1="3.6" y1="-7.5" x2="3.6" y2="7.5" stroke="#3a3a3a" stroke-width="0.9"/></g>
<g transform="translate(682.7 487.48)"><circle r="9.2" fill="#d2d2d2" stroke="#2a2a2a" stroke-width="1.5"/><circle r="6.4" fill="none" stroke="#4a4a4a" stroke-width="1.1"/><circle r="3.8" fill="#ececec" stroke="#333" stroke-width="1.1"/><line x1="-9.8" y1="0" x2="9.8" y2="0" stroke="#1a1a1a" stroke-width="1.6"/><line x1="-3.6" y1="-7.5" x2="-3.6" y2="7.5" stroke="#3a3a3a" stroke-width="0.9"/><line x1="3.6" y1="-7.5" x2="3.6" y2="7.5" stroke="#3a3a3a" stroke-width="0.9"/></g>
<g transform="translate(707.9 487.48)"><circle r="9.2" fill="#d2d2d2" stroke="#2a2a2a" stroke-width="1.5"/><circle r="6.4" fill="none" stroke="#4a4a4a" stroke-width="1.1"/><circle r="3.8" fill="#ececec" stroke="#333" stroke-width="1.1"/><line x1="-9.8" y1="0" x2="9.8" y2="0" stroke="#1a1a1a" stroke-width="1.6"/><line x1="-3.6" y1="-7.5" x2="-3.6" y2="7.5" stroke="#3a3a3a" stroke-width="0.9"/><line x1="3.6" y1="-7.5" x2="3.6" y2="7.5" stroke="#3a3a3a" stroke-width="0.9"/></g>
<g transform="translate(733.3 487.48)"><circle r="9.2" fill="#d2d2d2" stroke="#2a2a2a" stroke-width="1.5"/><circle r="6.4" fill="none" stroke="#4a4a4a" stroke-width="1.1"/><circle r="3.8" fill="#ececec" stroke="#333" stroke-width="1.1"/><line x1="-9.8" y1="0" x2="9.8" y2="0" stroke="#1a1a1a" stroke-width="1.6"/><line x1="-3.6" y1="-7.5" x2="-3.6" y2="7.5" stroke="#3a3a3a" stroke-width="0.9"/><line x1="3.6" y1="-7.5" x2="3.6" y2="7.5" stroke="#3a3a3a" stroke-width="0.9"/></g>
<g transform="translate(758.5 487.48)"><circle r="9.2" fill="#d2d2d2" stroke="#2a2a2a" stroke-width="1.5"/><circle r="6.4" fill="none" stroke="#4a4a4a" stroke-width="1.1"/><circle r="3.8" fill="#ececec" stroke="#333" stroke-width="1.1"/><line x1="-9.8" y1="0" x2="9.8" y2="0" stroke="#1a1a1a" stroke-width="1.6"/><line x1="-3.6" y1="-7.5" x2="-3.6" y2="7.5" stroke="#3a3a3a" stroke-width="0.9"/><line x1="3.6" y1="-7.5" x2="3.6" y2="7.5" stroke="#3a3a3a" stroke-width="0.9"/></g>
<g transform="translate(788.1 487.48)"><circle r="9.2" fill="#d2d2d2" stroke="#2a2a2a" stroke-width="1.5"/><circle r="6.4" fill="none" stroke="#4a4a4a" stroke-width="1.1"/><circle r="3.8" fill="#ececec" stroke="#333" stroke-width="1.1"/><line x1="-9.8" y1="0" x2="9.8" y2="0" stroke="#1a1a1a" stroke-width="1.6"/><line x1="-3.6" y1="-7.5" x2="-3.6" y2="7.5" stroke="#3a3a3a" stroke-width="0.9"/><line x1="3.6" y1="-7.5" x2="3.6" y2="7.5" stroke="#3a3a3a" stroke-width="0.9"/></g>
<g transform="translate(812.9 487.48)"><circle r="9.2" fill="#d2d2d2" stroke="#2a2a2a" stroke-width="1.5"/><circle r="6.4" fill="none" stroke="#4a4a4a" stroke-width="1.1"/><circle r="3.8" fill="#ececec" stroke="#333" stroke-width="1.1"/><line x1="-9.8" y1="0" x2="9.8" y2="0" stroke="#1a1a1a" stroke-width="1.6"/><line x1="-3.6" y1="-7.5" x2="-3.6" y2="7.5" stroke="#3a3a3a" stroke-width="0.9"/><line x1="3.6" y1="-7.5" x2="3.6" y2="7.5" stroke="#3a3a3a" stroke-width="0.9"/></g>
<g transform="translate(838.3 487.48)"><circle r="9.2" fill="#d2d2d2" stroke="#2a2a2a" stroke-width="1.5"/><circle r="6.4" fill="none" stroke="#4a4a4a" stroke-width="1.1"/><circle r="3.8" fill="#ececec" stroke="#333" stroke-width="1.1"/><line x1="-9.8" y1="0" x2="9.8" y2="0" stroke="#1a1a1a" stroke-width="1.6"/><line x1="-3.6" y1="-7.5" x2="-3.6" y2="7.5" stroke="#3a3a3a" stroke-width="0.9"/><line x1="3.6" y1="-7.5" x2="3.6" y2="7.5" stroke="#3a3a3a" stroke-width="0.9"/></g>
<g transform="translate(603.5 508.64)"><circle r="9.2" fill="#d2d2d2" stroke="#2a2a2a" stroke-width="1.5"/><circle r="6.4" fill="none" stroke="#4a4a4a" stroke-width="1.1"/><circle r="3.8" fill="#ececec" stroke="#333" stroke-width="1.1"/><line x1="-9.8" y1="0" x2="9.8" y2="0" stroke="#1a1a1a" stroke-width="1.6"/><line x1="-3.6" y1="-7.5" x2="-3.6" y2="7.5" stroke="#3a3a3a" stroke-width="0.9"/><line x1="3.6" y1="-7.5" x2="3.6" y2="7.5" stroke="#3a3a3a" stroke-width="0.9"/></g>
<g transform="translate(628.3 508.64)"><circle r="9.2" fill="#d2d2d2" stroke="#2a2a2a" stroke-width="1.5"/><circle r="6.4" fill="none" stroke="#4a4a4a" stroke-width="1.1"/><circle r="3.8" fill="#ececec" stroke="#333" stroke-width="1.1"/><line x1="-9.8" y1="0" x2="9.8" y2="0" stroke="#1a1a1a" stroke-width="1.6"/><line x1="-3.6" y1="-7.5" x2="-3.6" y2="7.5" stroke="#3a3a3a" stroke-width="0.9"/><line x1="3.6" y1="-7.5" x2="3.6" y2="7.5" stroke="#3a3a3a" stroke-width="0.9"/></g>
<g transform="translate(653.5 508.64)"><circle r="9.2" fill="#d2d2d2" stroke="#2a2a2a" stroke-width="1.5"/><circle r="6.4" fill="none" stroke="#4a4a4a" stroke-width="1.1"/><circle r="3.8" fill="#ececec" stroke="#333" stroke-width="1.1"/><line x1="-9.8" y1="0" x2="9.8" y2="0" stroke="#1a1a1a" stroke-width="1.6"/><line x1="-3.6" y1="-7.5" x2="-3.6" y2="7.5" stroke="#3a3a3a" stroke-width="0.9"/><line x1="3.6" y1="-7.5" x2="3.6" y2="7.5" stroke="#3a3a3a" stroke-width="0.9"/></g>
<g transform="translate(682.7 508.64)"><circle r="9.2" fill="#d2d2d2" stroke="#2a2a2a" stroke-width="1.5"/><circle r="6.4" fill="none" stroke="#4a4a4a" stroke-width="1.1"/><circle r="3.8" fill="#ececec" stroke="#333" stroke-width="1.1"/><line x1="-9.8" y1="0" x2="9.8" y2="0" stroke="#1a1a1a" stroke-width="1.6"/><line x1="-3.6" y1="-7.5" x2="-3.6" y2="7.5" stroke="#3a3a3a" stroke-width="0.9"/><line x1="3.6" y1="-7.5" x2="3.6" y2="7.5" stroke="#3a3a3a" stroke-width="0.9"/></g>
<g transform="translate(707.9 508.64)"><circle r="9.2" fill="#d2d2d2" stroke="#2a2a2a" stroke-width="1.5"/><circle r="6.4" fill="none" stroke="#4a4a4a" stroke-width="1.1"/><circle r="3.8" fill="#ececec" stroke="#333" stroke-width="1.1"/><line x1="-9.8" y1="0" x2="9.8" y2="0" stroke="#1a1a1a" stroke-width="1.6"/><line x1="-3.6" y1="-7.5" x2="-3.6" y2="7.5" stroke="#3a3a3a" stroke-width="0.9"/><line x1="3.6" y1="-7.5" x2="3.6" y2="7.5" stroke="#3a3a3a" stroke-width="0.9"/></g>
<g transform="translate(733.3 508.64)"><circle r="9.2" fill="#d2d2d2" stroke="#2a2a2a" stroke-width="1.5"/><circle r="6.4" fill="none" stroke="#4a4a4a" stroke-width="1.1"/><circle r="3.8" fill="#ececec" stroke="#333" stroke-width="1.1"/><line x1="-9.8" y1="0" x2="9.8" y2="0" stroke="#1a1a1a" stroke-width="1.6"/><line x1="-3.6" y1="-7.5" x2="-3.6" y2="7.5" stroke="#3a3a3a" stroke-width="0.9"/><line x1="3.6" y1="-7.5" x2="3.6" y2="7.5" stroke="#3a3a3a" stroke-width="0.9"/></g>
<g transform="translate(758.5 508.64)"><circle r="9.2" fill="#d2d2d2" stroke="#2a2a2a" stroke-width="1.5"/><circle r="6.4" fill="none" stroke="#4a4a4a" stroke-width="1.1"/><circle r="3.8" fill="#ececec" stroke="#333" stroke-width="1.1"/><line x1="-9.8" y1="0" x2="9.8" y2="0" stroke="#1a1a1a" stroke-width="1.6"/><line x1="-3.6" y1="-7.5" x2="-3.6" y2="7.5" stroke="#3a3a3a" stroke-width="0.9"/><line x1="3.6" y1="-7.5" x2="3.6" y2="7.5" stroke="#3a3a3a" stroke-width="0.9"/></g>
<g transform="translate(788.1 508.64)"><circle r="9.2" fill="#d2d2d2" stroke="#2a2a2a" stroke-width="1.5"/><circle r="6.4" fill="none" stroke="#4a4a4a" stroke-width="1.1"/><circle r="3.8" fill="#ececec" stroke="#333" stroke-width="1.1"/><line x1="-9.8" y1="0" x2="9.8" y2="0" stroke="#1a1a1a" stroke-width="1.6"/><line x1="-3.6" y1="-7.5" x2="-3.6" y2="7.5" stroke="#3a3a3a" stroke-width="0.9"/><line x1="3.6" y1="-7.5" x2="3.6" y2="7.5" stroke="#3a3a3a" stroke-width="0.9"/></g>
<g transform="translate(812.9 508.64)"><circle r="9.2" fill="#d2d2d2" stroke="#2a2a2a" stroke-width="1.5"/><circle r="6.4" fill="none" stroke="#4a4a4a" stroke-width="1.1"/><circle r="3.8" fill="#ececec" stroke="#333" stroke-width="1.1"/><line x1="-9.8" y1="0" x2="9.8" y2="0" stroke="#1a1a1a" stroke-width="1.6"/><line x1="-3.6" y1="-7.5" x2="-3.6" y2="7.5" stroke="#3a3a3a" stroke-width="0.9"/><line x1="3.6" y1="-7.5" x2="3.6" y2="7.5" stroke="#3a3a3a" stroke-width="0.9"/></g>
<g transform="translate(838.3 508.64)"><circle r="9.2" fill="#d2d2d2" stroke="#2a2a2a" stroke-width="1.5"/><circle r="6.4" fill="none" stroke="#4a4a4a" stroke-width="1.1"/><circle r="3.8" fill="#ececec" stroke="#333" stroke-width="1.1"/><line x1="-9.8" y1="0" x2="9.8" y2="0" stroke="#1a1a1a" stroke-width="1.6"/><line x1="-3.6" y1="-7.5" x2="-3.6" y2="7.5" stroke="#3a3a3a" stroke-width="0.9"/><line x1="3.6" y1="-7.5" x2="3.6" y2="7.5" stroke="#3a3a3a" stroke-width="0.9"/></g>
<g transform="translate(603.5 529.80)"><circle r="9.2" fill="#d2d2d2" stroke="#2a2a2a" stroke-width="1.5"/><circle r="6.4" fill="none" stroke="#4a4a4a" stroke-width="1.1"/><circle r="3.8" fill="#ececec" stroke="#333" stroke-width="1.1"/><line x1="-9.8" y1="0" x2="9.8" y2="0" stroke="#1a1a1a" stroke-width="1.6"/><line x1="-3.6" y1="-7.5" x2="-3.6" y2="7.5" stroke="#3a3a3a" stroke-width="0.9"/><line x1="3.6" y1="-7.5" x2="3.6" y2="7.5" stroke="#3a3a3a" stroke-width="0.9"/></g>
<g transform="translate(628.3 529.80)"><circle r="9.2" fill="#d2d2d2" stroke="#2a2a2a" stroke-width="1.5"/><circle r="6.4" fill="none" stroke="#4a4a4a" stroke-width="1.1"/><circle r="3.8" fill="#ececec" stroke="#333" stroke-width="1.1"/><line x1="-9.8" y1="0" x2="9.8" y2="0" stroke="#1a1a1a" stroke-width="1.6"/><line x1="-3.6" y1="-7.5" x2="-3.6" y2="7.5" stroke="#3a3a3a" stroke-width="0.9"/><line x1="3.6" y1="-7.5" x2="3.6" y2="7.5" stroke="#3a3a3a" stroke-width="0.9"/></g>
<g transform="translate(653.5 529.80)"><circle r="9.2" fill="#d2d2d2" stroke="#2a2a2a" stroke-width="1.5"/><circle r="6.4" fill="none" stroke="#4a4a4a" stroke-width="1.1"/><circle r="3.8" fill="#ececec" stroke="#333" stroke-width="1.1"/><line x1="-9.8" y1="0" x2="9.8" y2="0" stroke="#1a1a1a" stroke-width="1.6"/><line x1="-3.6" y1="-7.5" x2="-3.6" y2="7.5" stroke="#3a3a3a" stroke-width="0.9"/><line x1="3.6" y1="-7.5" x2="3.6" y2="7.5" stroke="#3a3a3a" stroke-width="0.9"/></g>
<g transform="translate(682.7 529.80)"><circle r="9.2" fill="#d2d2d2" stroke="#2a2a2a" stroke-width="1.5"/><circle r="6.4" fill="none" stroke="#4a4a4a" stroke-width="1.1"/><circle r="3.8" fill="#ececec" stroke="#333" stroke-width="1.1"/><line x1="-9.8" y1="0" x2="9.8" y2="0" stroke="#1a1a1a" stroke-width="1.6"/><line x1="-3.6" y1="-7.5" x2="-3.6" y2="7.5" stroke="#3a3a3a" stroke-width="0.9"/><line x1="3.6" y1="-7.5" x2="3.6" y2="7.5" stroke="#3a3a3a" stroke-width="0.9"/></g>
<g transform="translate(707.9 529.80)"><circle r="9.2" fill="#d2d2d2" stroke="#2a2a2a" stroke-width="1.5"/><circle r="6.4" fill="none" stroke="#4a4a4a" stroke-width="1.1"/><circle r="3.8" fill="#ececec" stroke="#333" stroke-width="1.1"/><line x1="-9.8" y1="0" x2="9.8" y2="0" stroke="#1a1a1a" stroke-width="1.6"/><line x1="-3.6" y1="-7.5" x2="-3.6" y2="7.5" stroke="#3a3a3a" stroke-width="0.9"/><line x1="3.6" y1="-7.5" x2="3.6" y2="7.5" stroke="#3a3a3a" stroke-width="0.9"/></g>
<g transform="translate(733.3 529.80)"><circle r="9.2" fill="#d2d2d2" stroke="#2a2a2a" stroke-width="1.5"/><circle r="6.4" fill="none" stroke="#4a4a4a" stroke-width="1.1"/><circle r="3.8" fill="#ececec" stroke="#333" stroke-width="1.1"/><line x1="-9.8" y1="0" x2="9.8" y2="0" stroke="#1a1a1a" stroke-width="1.6"/><line x1="-3.6" y1="-7.5" x2="-3.6" y2="7.5" stroke="#3a3a3a" stroke-width="0.9"/><line x1="3.6" y1="-7.5" x2="3.6" y2="7.5" stroke="#3a3a3a" stroke-width="0.9"/></g>
<g transform="translate(758.5 529.80)"><circle r="9.2" fill="#d2d2d2" stroke="#2a2a2a" stroke-width="1.5"/><circle r="6.4" fill="none" stroke="#4a4a4a" stroke-width="1.1"/><circle r="3.8" fill="#ececec" stroke="#333" stroke-width="1.1"/><line x1="-9.8" y1="0" x2="9.8" y2="0" stroke="#1a1a1a" stroke-width="1.6"/><line x1="-3.6" y1="-7.5" x2="-3.6" y2="7.5" stroke="#3a3a3a" stroke-width="0.9"/><line x1="3.6" y1="-7.5" x2="3.6" y2="7.5" stroke="#3a3a3a" stroke-width="0.9"/></g>
<g transform="translate(788.1 529.80)"><circle r="9.2" fill="#d2d2d2" stroke="#2a2a2a" stroke-width="1.5"/><circle r="6.4" fill="none" stroke="#4a4a4a" stroke-width="1.1"/><circle r="3.8" fill="#ececec" stroke="#333" stroke-width="1.1"/><line x1="-9.8" y1="0" x2="9.8" y2="0" stroke="#1a1a1a" stroke-width="1.6"/><line x1="-3.6" y1="-7.5" x2="-3.6" y2="7.5" stroke="#3a3a3a" stroke-width="0.9"/><line x1="3.6" y1="-7.5" x2="3.6" y2="7.5" stroke="#3a3a3a" stroke-width="0.9"/></g>
<g transform="translate(812.9 529.80)"><circle r="9.2" fill="#d2d2d2" stroke="#2a2a2a" stroke-width="1.5"/><circle r="6.4" fill="none" stroke="#4a4a4a" stroke-width="1.1"/><circle r="3.8" fill="#ececec" stroke="#333" stroke-width="1.1"/><line x1="-9.8" y1="0" x2="9.8" y2="0" stroke="#1a1a1a" stroke-width="1.6"/><line x1="-3.6" y1="-7.5" x2="-3.6" y2="7.5" stroke="#3a3a3a" stroke-width="0.9"/><line x1="3.6" y1="-7.5" x2="3.6" y2="7.5" stroke="#3a3a3a" stroke-width="0.9"/></g>
<g transform="translate(838.3 529.80)"><circle r="9.2" fill="#d2d2d2" stroke="#2a2a2a" stroke-width="1.5"/><circle r="6.4" fill="none" stroke="#4a4a4a" stroke-width="1.1"/><circle r="3.8" fill="#ececec" stroke="#333" stroke-width="1.1"/><line x1="-9.8" y1="0" x2="9.8" y2="0" stroke="#1a1a1a" stroke-width="1.6"/><line x1="-3.6" y1="-7.5" x2="-3.6" y2="7.5" stroke="#3a3a3a" stroke-width="0.9"/><line x1="3.6" y1="-7.5" x2="3.6" y2="7.5" stroke="#3a3a3a" stroke-width="0.9"/></g>
<g transform="translate(603.5 550.96)"><circle r="9.2" fill="#d2d2d2" stroke="#2a2a2a" stroke-width="1.5"/><circle r="6.4" fill="none" stroke="#4a4a4a" stroke-width="1.1"/><circle r="3.8" fill="#ececec" stroke="#333" stroke-width="1.1"/><line x1="-9.8" y1="0" x2="9.8" y2="0" stroke="#1a1a1a" stroke-width="1.6"/><line x1="-3.6" y1="-7.5" x2="-3.6" y2="7.5" stroke="#3a3a3a" stroke-width="0.9"/><line x1="3.6" y1="-7.5" x2="3.6" y2="7.5" stroke="#3a3a3a" stroke-width="0.9"/></g>
<g transform="translate(628.3 550.96)"><circle r="9.2" fill="#d2d2d2" stroke="#2a2a2a" stroke-width="1.5"/><circle r="6.4" fill="none" stroke="#4a4a4a" stroke-width="1.1"/><circle r="3.8" fill="#ececec" stroke="#333" stroke-width="1.1"/><line x1="-9.8" y1="0" x2="9.8" y2="0" stroke="#1a1a1a" stroke-width="1.6"/><line x1="-3.6" y1="-7.5" x2="-3.6" y2="7.5" stroke="#3a3a3a" stroke-width="0.9"/><line x1="3.6" y1="-7.5" x2="3.6" y2="7.5" stroke="#3a3a3a" stroke-width="0.9"/></g>
<g transform="translate(653.5 550.96)"><circle r="9.2" fill="#d2d2d2" stroke="#2a2a2a" stroke-width="1.5"/><circle r="6.4" fill="none" stroke="#4a4a4a" stroke-width="1.1"/><circle r="3.8" fill="#ececec" stroke="#333" stroke-width="1.1"/><line x1="-9.8" y1="0" x2="9.8" y2="0" stroke="#1a1a1a" stroke-width="1.6"/><line x1="-3.6" y1="-7.5" x2="-3.6" y2="7.5" stroke="#3a3a3a" stroke-width="0.9"/><line x1="3.6" y1="-7.5" x2="3.6" y2="7.5" stroke="#3a3a3a" stroke-width="0.9"/></g>
<g transform="translate(682.7 550.96)"><circle r="9.2" fill="#d2d2d2" stroke="#2a2a2a" stroke-width="1.5"/><circle r="6.4" fill="none" stroke="#4a4a4a" stroke-width="1.1"/><circle r="3.8" fill="#ececec" stroke="#333" stroke-width="1.1"/><line x1="-9.8" y1="0" x2="9.8" y2="0" stroke="#1a1a1a" stroke-width="1.6"/><line x1="-3.6" y1="-7.5" x2="-3.6" y2="7.5" stroke="#3a3a3a" stroke-width="0.9"/><line x1="3.6" y1="-7.5" x2="3.6" y2="7.5" stroke="#3a3a3a" stroke-width="0.9"/></g>
<g transform="translate(707.9 550.96)"><circle r="9.2" fill="#d2d2d2" stroke="#2a2a2a" stroke-width="1.5"/><circle r="6.4" fill="none" stroke="#4a4a4a" stroke-width="1.1"/><circle r="3.8" fill="#ececec" stroke="#333" stroke-width="1.1"/><line x1="-9.8" y1="0" x2="9.8" y2="0" stroke="#1a1a1a" stroke-width="1.6"/><line x1="-3.6" y1="-7.5" x2="-3.6" y2="7.5" stroke="#3a3a3a" stroke-width="0.9"/><line x1="3.6" y1="-7.5" x2="3.6" y2="7.5" stroke="#3a3a3a" stroke-width="0.9"/></g>
<g transform="translate(733.3 550.96)"><circle r="9.2" fill="#d2d2d2" stroke="#2a2a2a" stroke-width="1.5"/><circle r="6.4" fill="none" stroke="#4a4a4a" stroke-width="1.1"/><circle r="3.8" fill="#ececec" stroke="#333" stroke-width="1.1"/><line x1="-9.8" y1="0" x2="9.8" y2="0" stroke="#1a1a1a" stroke-width="1.6"/><line x1="-3.6" y1="-7.5" x2="-3.6" y2="7.5" stroke="#3a3a3a" stroke-width="0.9"/><line x1="3.6" y1="-7.5" x2="3.6" y2="7.5" stroke="#3a3a3a" stroke-width="0.9"/></g>
<g transform="translate(758.5 550.96)"><circle r="9.2" fill="#d2d2d2" stroke="#2a2a2a" stroke-width="1.5"/><circle r="6.4" fill="none" stroke="#4a4a4a" stroke-width="1.1"/><circle r="3.8" fill="#ececec" stroke="#333" stroke-width="1.1"/><line x1="-9.8" y1="0" x2="9.8" y2="0" stroke="#1a1a1a" stroke-width="1.6"/><line x1="-3.6" y1="-7.5" x2="-3.6" y2="7.5" stroke="#3a3a3a" stroke-width="0.9"/><line x1="3.6" y1="-7.5" x2="3.6" y2="7.5" stroke="#3a3a3a" stroke-width="0.9"/></g>
<g transform="translate(788.1 550.96)"><circle r="9.2" fill="#d2d2d2" stroke="#2a2a2a" stroke-width="1.5"/><circle r="6.4" fill="none" stroke="#4a4a4a" stroke-width="1.1"/><circle r="3.8" fill="#ececec" stroke="#333" stroke-width="1.1"/><line x1="-9.8" y1="0" x2="9.8" y2="0" stroke="#1a1a1a" stroke-width="1.6"/><line x1="-3.6" y1="-7.5" x2="-3.6" y2="7.5" stroke="#3a3a3a" stroke-width="0.9"/><line x1="3.6" y1="-7.5" x2="3.6" y2="7.5" stroke="#3a3a3a" stroke-width="0.9"/></g>
<g transform="translate(812.9 550.96)"><circle r="9.2" fill="#d2d2d2" stroke="#2a2a2a" stroke-width="1.5"/><circle r="6.4" fill="none" stroke="#4a4a4a" stroke-width="1.1"/><circle r="3.8" fill="#ececec" stroke="#333" stroke-width="1.1"/><line x1="-9.8" y1="0" x2="9.8" y2="0" stroke="#1a1a1a" stroke-width="1.6"/><line x1="-3.6" y1="-7.5" x2="-3.6" y2="7.5" stroke="#3a3a3a" stroke-width="0.9"/><line x1="3.6" y1="-7.5" x2="3.6" y2="7.5" stroke="#3a3a3a" stroke-width="0.9"/></g>
<g transform="translate(838.3 550.96)"><circle r="9.2" fill="#d2d2d2" stroke="#2a2a2a" stroke-width="1.5"/><circle r="6.4" fill="none" stroke="#4a4a4a" stroke-width="1.1"/><circle r="3.8" fill="#ececec" stroke="#333" stroke-width="1.1"/><line x1="-9.8" y1="0" x2="9.8" y2="0" stroke="#1a1a1a" stroke-width="1.6"/><line x1="-3.6" y1="-7.5" x2="-3.6" y2="7.5" stroke="#3a3a3a" stroke-width="0.9"/><line x1="3.6" y1="-7.5" x2="3.6" y2="7.5" stroke="#3a3a3a" stroke-width="0.9"/></g>
<g transform="translate(603.5 572.12)"><circle r="9.2" fill="#d2d2d2" stroke="#2a2a2a" stroke-width="1.5"/><circle r="6.4" fill="none" stroke="#4a4a4a" stroke-width="1.1"/><circle r="3.8" fill="#ececec" stroke="#333" stroke-width="1.1"/><line x1="-9.8" y1="0" x2="9.8" y2="0" stroke="#1a1a1a" stroke-width="1.6"/><line x1="-3.6" y1="-7.5" x2="-3.6" y2="7.5" stroke="#3a3a3a" stroke-width="0.9"/><line x1="3.6" y1="-7.5" x2="3.6" y2="7.5" stroke="#3a3a3a" stroke-width="0.9"/></g>
<g transform="translate(628.3 572.12)"><circle r="9.2" fill="#d2d2d2" stroke="#2a2a2a" stroke-width="1.5"/><circle r="6.4" fill="none" stroke="#4a4a4a" stroke-width="1.1"/><circle r="3.8" fill="#ececec" stroke="#333" stroke-width="1.1"/><line x1="-9.8" y1="0" x2="9.8" y2="0" stroke="#1a1a1a" stroke-width="1.6"/><line x1="-3.6" y1="-7.5" x2="-3.6" y2="7.5" stroke="#3a3a3a" stroke-width="0.9"/><line x1="3.6" y1="-7.5" x2="3.6" y2="7.5" stroke="#3a3a3a" stroke-width="0.9"/></g>
<g transform="translate(653.5 572.12)"><circle r="9.2" fill="#d2d2d2" stroke="#2a2a2a" stroke-width="1.5"/><circle r="6.4" fill="none" stroke="#4a4a4a" stroke-width="1.1"/><circle r="3.8" fill="#ececec" stroke="#333" stroke-width="1.1"/><line x1="-9.8" y1="0" x2="9.8" y2="0" stroke="#1a1a1a" stroke-width="1.6"/><line x1="-3.6" y1="-7.5" x2="-3.6" y2="7.5" stroke="#3a3a3a" stroke-width="0.9"/><line x1="3.6" y1="-7.5" x2="3.6" y2="7.5" stroke="#3a3a3a" stroke-width="0.9"/></g>
<g transform="translate(682.7 572.12)"><circle r="9.2" fill="#d2d2d2" stroke="#2a2a2a" stroke-width="1.5"/><circle r="6.4" fill="none" stroke="#4a4a4a" stroke-width="1.1"/><circle r="3.8" fill="#ececec" stroke="#333" stroke-width="1.1"/><line x1="-9.8" y1="0" x2="9.8" y2="0" stroke="#1a1a1a" stroke-width="1.6"/><line x1="-3.6" y1="-7.5" x2="-3.6" y2="7.5" stroke="#3a3a3a" stroke-width="0.9"/><line x1="3.6" y1="-7.5" x2="3.6" y2="7.5" stroke="#3a3a3a" stroke-width="0.9"/></g>
<g transform="translate(707.9 572.12)"><circle r="9.2" fill="#d2d2d2" stroke="#2a2a2a" stroke-width="1.5"/><circle r="6.4" fill="none" stroke="#4a4a4a" stroke-width="1.1"/><circle r="3.8" fill="#ececec" stroke="#333" stroke-width="1.1"/><line x1="-9.8" y1="0" x2="9.8" y2="0" stroke="#1a1a1a" stroke-width="1.6"/><line x1="-3.6" y1="-7.5" x2="-3.6" y2="7.5" stroke="#3a3a3a" stroke-width="0.9"/><line x1="3.6" y1="-7.5" x2="3.6" y2="7.5" stroke="#3a3a3a" stroke-width="0.9"/></g>
<g transform="translate(733.3 572.12)"><circle r="9.2" fill="#d2d2d2" stroke="#2a2a2a" stroke-width="1.5"/><circle r="6.4" fill="none" stroke="#4a4a4a" stroke-width="1.1"/><circle r="3.8" fill="#ececec" stroke="#333" stroke-width="1.1"/><line x1="-9.8" y1="0" x2="9.8" y2="0" stroke="#1a1a1a" stroke-width="1.6"/><line x1="-3.6" y1="-7.5" x2="-3.6" y2="7.5" stroke="#3a3a3a" stroke-width="0.9"/><line x1="3.6" y1="-7.5" x2="3.6" y2="7.5" stroke="#3a3a3a" stroke-width="0.9"/></g>
<g transform="translate(758.5 572.12)"><circle r="9.2" fill="#d2d2d2" stroke="#2a2a2a" stroke-width="1.5"/><circle r="6.4" fill="none" stroke="#4a4a4a" stroke-width="1.1"/><circle r="3.8" fill="#ececec" stroke="#333" stroke-width="1.1"/><line x1="-9.8" y1="0" x2="9.8" y2="0" stroke="#1a1a1a" stroke-width="1.6"/><line x1="-3.6" y1="-7.5" x2="-3.6" y2="7.5" stroke="#3a3a3a" stroke-width="0.9"/><line x1="3.6" y1="-7.5" x2="3.6" y2="7.5" stroke="#3a3a3a" stroke-width="0.9"/></g>
<g transform="translate(788.1 572.12)"><circle r="9.2" fill="#d2d2d2" stroke="#2a2a2a" stroke-width="1.5"/><circle r="6.4" fill="none" stroke="#4a4a4a" stroke-width="1.1"/><circle r="3.8" fill="#ececec" stroke="#333" stroke-width="1.1"/><line x1="-9.8" y1="0" x2="9.8" y2="0" stroke="#1a1a1a" stroke-width="1.6"/><line x1="-3.6" y1="-7.5" x2="-3.6" y2="7.5" stroke="#3a3a3a" stroke-width="0.9"/><line x1="3.6" y1="-7.5" x2="3.6" y2="7.5" stroke="#3a3a3a" stroke-width="0.9"/></g>
<g transform="translate(812.9 572.12)"><circle r="9.2" fill="#d2d2d2" stroke="#2a2a2a" stroke-width="1.5"/><circle r="6.4" fill="none" stroke="#4a4a4a" stroke-width="1.1"/><circle r="3.8" fill="#ececec" stroke="#333" stroke-width="1.1"/><line x1="-9.8" y1="0" x2="9.8" y2="0" stroke="#1a1a1a" stroke-width="1.6"/><line x1="-3.6" y1="-7.5" x2="-3.6" y2="7.5" stroke="#3a3a3a" stroke-width="0.9"/><line x1="3.6" y1="-7.5" x2="3.6" y2="7.5" stroke="#3a3a3a" stroke-width="0.9"/></g>
<g transform="translate(838.3 572.12)"><circle r="9.2" fill="#d2d2d2" stroke="#2a2a2a" stroke-width="1.5"/><circle r="6.4" fill="none" stroke="#4a4a4a" stroke-width="1.1"/><circle r="3.8" fill="#ececec" stroke="#333" stroke-width="1.1"/><line x1="-9.8" y1="0" x2="9.8" y2="0" stroke="#1a1a1a" stroke-width="1.6"/><line x1="-3.6" y1="-7.5" x2="-3.6" y2="7.5" stroke="#3a3a3a" stroke-width="0.9"/><line x1="3.6" y1="-7.5" x2="3.6" y2="7.5" stroke="#3a3a3a" stroke-width="0.9"/></g>
<g transform="translate(603.5 593.28)"><circle r="9.2" fill="#d2d2d2" stroke="#2a2a2a" stroke-width="1.5"/><circle r="6.4" fill="none" stroke="#4a4a4a" stroke-width="1.1"/><circle r="3.8" fill="#ececec" stroke="#333" stroke-width="1.1"/><line x1="-9.8" y1="0" x2="9.8" y2="0" stroke="#1a1a1a" stroke-width="1.6"/><line x1="-3.6" y1="-7.5" x2="-3.6" y2="7.5" stroke="#3a3a3a" stroke-width="0.9"/><line x1="3.6" y1="-7.5" x2="3.6" y2="7.5" stroke="#3a3a3a" stroke-width="0.9"/></g>
<g transform="translate(628.3 593.28)"><circle r="9.2" fill="#d2d2d2" stroke="#2a2a2a" stroke-width="1.5"/><circle r="6.4" fill="none" stroke="#4a4a4a" stroke-width="1.1"/><circle r="3.8" fill="#ececec" stroke="#333" stroke-width="1.1"/><line x1="-9.8" y1="0" x2="9.8" y2="0" stroke="#1a1a1a" stroke-width="1.6"/><line x1="-3.6" y1="-7.5" x2="-3.6" y2="7.5" stroke="#3a3a3a" stroke-width="0.9"/><line x1="3.6" y1="-7.5" x2="3.6" y2="7.5" stroke="#3a3a3a" stroke-width="0.9"/></g>
<g transform="translate(653.5 593.28)"><circle r="9.2" fill="#d2d2d2" stroke="#2a2a2a" stroke-width="1.5"/><circle r="6.4" fill="none" stroke="#4a4a4a" stroke-width="1.1"/><circle r="3.8" fill="#ececec" stroke="#333" stroke-width="1.1"/><line x1="-9.8" y1="0" x2="9.8" y2="0" stroke="#1a1a1a" stroke-width="1.6"/><line x1="-3.6" y1="-7.5" x2="-3.6" y2="7.5" stroke="#3a3a3a" stroke-width="0.9"/><line x1="3.6" y1="-7.5" x2="3.6" y2="7.5" stroke="#3a3a3a" stroke-width="0.9"/></g>
<g transform="translate(682.7 593.28)"><circle r="9.2" fill="#d2d2d2" stroke="#2a2a2a" stroke-width="1.5"/><circle r="6.4" fill="none" stroke="#4a4a4a" stroke-width="1.1"/><circle r="3.8" fill="#ececec" stroke="#333" stroke-width="1.1"/><line x1="-9.8" y1="0" x2="9.8" y2="0" stroke="#1a1a1a" stroke-width="1.6"/><line x1="-3.6" y1="-7.5" x2="-3.6" y2="7.5" stroke="#3a3a3a" stroke-width="0.9"/><line x1="3.6" y1="-7.5" x2="3.6" y2="7.5" stroke="#3a3a3a" stroke-width="0.9"/></g>
<g transform="translate(707.9 593.28)"><circle r="9.2" fill="#d2d2d2" stroke="#2a2a2a" stroke-width="1.5"/><circle r="6.4" fill="none" stroke="#4a4a4a" stroke-width="1.1"/><circle r="3.8" fill="#ececec" stroke="#333" stroke-width="1.1"/><line x1="-9.8" y1="0" x2="9.8" y2="0" stroke="#1a1a1a" stroke-width="1.6"/><line x1="-3.6" y1="-7.5" x2="-3.6" y2="7.5" stroke="#3a3a3a" stroke-width="0.9"/><line x1="3.6" y1="-7.5" x2="3.6" y2="7.5" stroke="#3a3a3a" stroke-width="0.9"/></g>
<g transform="translate(733.3 593.28)"><circle r="9.2" fill="#d2d2d2" stroke="#2a2a2a" stroke-width="1.5"/><circle r="6.4" fill="none" stroke="#4a4a4a" stroke-width="1.1"/><circle r="3.8" fill="#ececec" stroke="#333" stroke-width="1.1"/><line x1="-9.8" y1="0" x2="9.8" y2="0" stroke="#1a1a1a" stroke-width="1.6"/><line x1="-3.6" y1="-7.5" x2="-3.6" y2="7.5" stroke="#3a3a3a" stroke-width="0.9"/><line x1="3.6" y1="-7.5" x2="3.6" y2="7.5" stroke="#3a3a3a" stroke-width="0.9"/></g>
<g transform="translate(758.5 593.28)"><circle r="9.2" fill="#d2d2d2" stroke="#2a2a2a" stroke-width="1.5"/><circle r="6.4" fill="none" stroke="#4a4a4a" stroke-width="1.1"/><circle r="3.8" fill="#ececec" stroke="#333" stroke-width="1.1"/><line x1="-9.8" y1="0" x2="9.8" y2="0" stroke="#1a1a1a" stroke-width="1.6"/><line x1="-3.6" y1="-7.5" x2="-3.6" y2="7.5" stroke="#3a3a3a" stroke-width="0.9"/><line x1="3.6" y1="-7.5" x2="3.6" y2="7.5" stroke="#3a3a3a" stroke-width="0.9"/></g>
<g transform="translate(788.1 593.28)"><circle r="9.2" fill="#d2d2d2" stroke="#2a2a2a" stroke-width="1.5"/><circle r="6.4" fill="none" stroke="#4a4a4a" stroke-width="1.1"/><circle r="3.8" fill="#ececec" stroke="#333" stroke-width="1.1"/><line x1="-9.8" y1="0" x2="9.8" y2="0" stroke="#1a1a1a" stroke-width="1.6"/><line x1="-3.6" y1="-7.5" x2="-3.6" y2="7.5" stroke="#3a3a3a" stroke-width="0.9"/><line x1="3.6" y1="-7.5" x2="3.6" y2="7.5" stroke="#3a3a3a" stroke-width="0.9"/></g>
<g transform="translate(812.9 593.28)"><circle r="9.2" fill="#d2d2d2" stroke="#2a2a2a" stroke-width="1.5"/><circle r="6.4" fill="none" stroke="#4a4a4a" stroke-width="1.1"/><circle r="3.8" fill="#ececec" stroke="#333" stroke-width="1.1"/><line x1="-9.8" y1="0" x2="9.8" y2="0" stroke="#1a1a1a" stroke-width="1.6"/><line x1="-3.6" y1="-7.5" x2="-3.6" y2="7.5" stroke="#3a3a3a" stroke-width="0.9"/><line x1="3.6" y1="-7.5" x2="3.6" y2="7.5" stroke="#3a3a3a" stroke-width="0.9"/></g>
<g transform="translate(838.3 593.28)"><circle r="9.2" fill="#d2d2d2" stroke="#2a2a2a" stroke-width="1.5"/><circle r="6.4" fill="none" stroke="#4a4a4a" stroke-width="1.1"/><circle r="3.8" fill="#ececec" stroke="#333" stroke-width="1.1"/><line x1="-9.8" y1="0" x2="9.8" y2="0" stroke="#1a1a1a" stroke-width="1.6"/><line x1="-3.6" y1="-7.5" x2="-3.6" y2="7.5" stroke="#3a3a3a" stroke-width="0.9"/><line x1="3.6" y1="-7.5" x2="3.6" y2="7.5" stroke="#3a3a3a" stroke-width="0.9"/></g>
<g transform="translate(603.5 614.44)"><circle r="9.2" fill="#d2d2d2" stroke="#2a2a2a" stroke-width="1.5"/><circle r="6.4" fill="none" stroke="#4a4a4a" stroke-width="1.1"/><circle r="3.8" fill="#ececec" stroke="#333" stroke-width="1.1"/><line x1="-9.8" y1="0" x2="9.8" y2="0" stroke="#1a1a1a" stroke-width="1.6"/><line x1="-3.6" y1="-7.5" x2="-3.6" y2="7.5" stroke="#3a3a3a" stroke-width="0.9"/><line x1="3.6" y1="-7.5" x2="3.6" y2="7.5" stroke="#3a3a3a" stroke-width="0.9"/></g>
<g transform="translate(628.3 614.44)"><circle r="9.2" fill="#d2d2d2" stroke="#2a2a2a" stroke-width="1.5"/><circle r="6.4" fill="none" stroke="#4a4a4a" stroke-width="1.1"/><circle r="3.8" fill="#ececec" stroke="#333" stroke-width="1.1"/><line x1="-9.8" y1="0" x2="9.8" y2="0" stroke="#1a1a1a" stroke-width="1.6"/><line x1="-3.6" y1="-7.5" x2="-3.6" y2="7.5" stroke="#3a3a3a" stroke-width="0.9"/><line x1="3.6" y1="-7.5" x2="3.6" y2="7.5" stroke="#3a3a3a" stroke-width="0.9"/></g>
<g transform="translate(653.5 614.44)"><circle r="9.2" fill="#d2d2d2" stroke="#2a2a2a" stroke-width="1.5"/><circle r="6.4" fill="none" stroke="#4a4a4a" stroke-width="1.1"/><circle r="3.8" fill="#ececec" stroke="#333" stroke-width="1.1"/><line x1="-9.8" y1="0" x2="9.8" y2="0" stroke="#1a1a1a" stroke-width="1.6"/><line x1="-3.6" y1="-7.5" x2="-3.6" y2="7.5" stroke="#3a3a3a" stroke-width="0.9"/><line x1="3.6" y1="-7.5" x2="3.6" y2="7.5" stroke="#3a3a3a" stroke-width="0.9"/></g>
<g transform="translate(682.7 614.44)"><circle r="9.2" fill="#d2d2d2" stroke="#2a2a2a" stroke-width="1.5"/><circle r="6.4" fill="none" stroke="#4a4a4a" stroke-width="1.1"/><circle r="3.8" fill="#ececec" stroke="#333" stroke-width="1.1"/><line x1="-9.8" y1="0" x2="9.8" y2="0" stroke="#1a1a1a" stroke-width="1.6"/><line x1="-3.6" y1="-7.5" x2="-3.6" y2="7.5" stroke="#3a3a3a" stroke-width="0.9"/><line x1="3.6" y1="-7.5" x2="3.6" y2="7.5" stroke="#3a3a3a" stroke-width="0.9"/></g>
<g transform="translate(707.9 614.44)"><circle r="9.2" fill="#d2d2d2" stroke="#2a2a2a" stroke-width="1.5"/><circle r="6.4" fill="none" stroke="#4a4a4a" stroke-width="1.1"/><circle r="3.8" fill="#ececec" stroke="#333" stroke-width="1.1"/><line x1="-9.8" y1="0" x2="9.8" y2="0" stroke="#1a1a1a" stroke-width="1.6"/><line x1="-3.6" y1="-7.5" x2="-3.6" y2="7.5" stroke="#3a3a3a" stroke-width="0.9"/><line x1="3.6" y1="-7.5" x2="3.6" y2="7.5" stroke="#3a3a3a" stroke-width="0.9"/></g>
<g transform="translate(733.3 614.44)"><circle r="9.2" fill="#d2d2d2" stroke="#2a2a2a" stroke-width="1.5"/><circle r="6.4" fill="none" stroke="#4a4a4a" stroke-width="1.1"/><circle r="3.8" fill="#ececec" stroke="#333" stroke-width="1.1"/><line x1="-9.8" y1="0" x2="9.8" y2="0" stroke="#1a1a1a" stroke-width="1.6"/><line x1="-3.6" y1="-7.5" x2="-3.6" y2="7.5" stroke="#3a3a3a" stroke-width="0.9"/><line x1="3.6" y1="-7.5" x2="3.6" y2="7.5" stroke="#3a3a3a" stroke-width="0.9"/></g>
<g transform="translate(758.5 614.44)"><circle r="9.2" fill="#d2d2d2" stroke="#2a2a2a" stroke-width="1.5"/><circle r="6.4" fill="none" stroke="#4a4a4a" stroke-width="1.1"/><circle r="3.8" fill="#ececec" stroke="#333" stroke-width="1.1"/><line x1="-9.8" y1="0" x2="9.8" y2="0" stroke="#1a1a1a" stroke-width="1.6"/><line x1="-3.6" y1="-7.5" x2="-3.6" y2="7.5" stroke="#3a3a3a" stroke-width="0.9"/><line x1="3.6" y1="-7.5" x2="3.6" y2="7.5" stroke="#3a3a3a" stroke-width="0.9"/></g>
<g transform="translate(788.1 614.44)"><circle r="9.2" fill="#d2d2d2" stroke="#2a2a2a" stroke-width="1.5"/><circle r="6.4" fill="none" stroke="#4a4a4a" stroke-width="1.1"/><circle r="3.8" fill="#ececec" stroke="#333" stroke-width="1.1"/><line x1="-9.8" y1="0" x2="9.8" y2="0" stroke="#1a1a1a" stroke-width="1.6"/><line x1="-3.6" y1="-7.5" x2="-3.6" y2="7.5" stroke="#3a3a3a" stroke-width="0.9"/><line x1="3.6" y1="-7.5" x2="3.6" y2="7.5" stroke="#3a3a3a" stroke-width="0.9"/></g>
<g transform="translate(812.9 614.44)"><circle r="9.2" fill="#d2d2d2" stroke="#2a2a2a" stroke-width="1.5"/><circle r="6.4" fill="none" stroke="#4a4a4a" stroke-width="1.1"/><circle r="3.8" fill="#ececec" stroke="#333" stroke-width="1.1"/><line x1="-9.8" y1="0" x2="9.8" y2="0" stroke="#1a1a1a" stroke-width="1.6"/><line x1="-3.6" y1="-7.5" x2="-3.6" y2="7.5" stroke="#3a3a3a" stroke-width="0.9"/><line x1="3.6" y1="-7.5" x2="3.6" y2="7.5" stroke="#3a3a3a" stroke-width="0.9"/></g>
<g transform="translate(838.3 614.44)"><circle r="9.2" fill="#d2d2d2" stroke="#2a2a2a" stroke-width="1.5"/><circle r="6.4" fill="none" stroke="#4a4a4a" stroke-width="1.1"/><circle r="3.8" fill="#ececec" stroke="#333" stroke-width="1.1"/><line x1="-9.8" y1="0" x2="9.8" y2="0" stroke="#1a1a1a" stroke-width="1.6"/><line x1="-3.6" y1="-7.5" x2="-3.6" y2="7.5" stroke="#3a3a3a" stroke-width="0.9"/><line x1="3.6" y1="-7.5" x2="3.6" y2="7.5" stroke="#3a3a3a" stroke-width="0.9"/></g>
<g transform="translate(603.5 635.60)"><circle r="9.2" fill="#d2d2d2" stroke="#2a2a2a" stroke-width="1.5"/><circle r="6.4" fill="none" stroke="#4a4a4a" stroke-width="1.1"/><circle r="3.8" fill="#ececec" stroke="#333" stroke-width="1.1"/><line x1="-9.8" y1="0" x2="9.8" y2="0" stroke="#1a1a1a" stroke-width="1.6"/><line x1="-3.6" y1="-7.5" x2="-3.6" y2="7.5" stroke="#3a3a3a" stroke-width="0.9"/><line x1="3.6" y1="-7.5" x2="3.6" y2="7.5" stroke="#3a3a3a" stroke-width="0.9"/></g>
<g transform="translate(628.3 635.60)"><circle r="9.2" fill="#d2d2d2" stroke="#2a2a2a" stroke-width="1.5"/><circle r="6.4" fill="none" stroke="#4a4a4a" stroke-width="1.1"/><circle r="3.8" fill="#ececec" stroke="#333" stroke-width="1.1"/><line x1="-9.8" y1="0" x2="9.8" y2="0" stroke="#1a1a1a" stroke-width="1.6"/><line x1="-3.6" y1="-7.5" x2="-3.6" y2="7.5" stroke="#3a3a3a" stroke-width="0.9"/><line x1="3.6" y1="-7.5" x2="3.6" y2="7.5" stroke="#3a3a3a" stroke-width="0.9"/></g>
<g transform="translate(653.5 635.60)"><circle r="9.2" fill="#d2d2d2" stroke="#2a2a2a" stroke-width="1.5"/><circle r="6.4" fill="none" stroke="#4a4a4a" stroke-width="1.1"/><circle r="3.8" fill="#ececec" stroke="#333" stroke-width="1.1"/><line x1="-9.8" y1="0" x2="9.8" y2="0" stroke="#1a1a1a" stroke-width="1.6"/><line x1="-3.6" y1="-7.5" x2="-3.6" y2="7.5" stroke="#3a3a3a" stroke-width="0.9"/><line x1="3.6" y1="-7.5" x2="3.6" y2="7.5" stroke="#3a3a3a" stroke-width="0.9"/></g>
<g transform="translate(682.7 635.60)"><circle r="9.2" fill="#d2d2d2" stroke="#2a2a2a" stroke-width="1.5"/><circle r="6.4" fill="none" stroke="#4a4a4a" stroke-width="1.1"/><circle r="3.8" fill="#ececec" stroke="#333" stroke-width="1.1"/><line x1="-9.8" y1="0" x2="9.8" y2="0" stroke="#1a1a1a" stroke-width="1.6"/><line x1="-3.6" y1="-7.5" x2="-3.6" y2="7.5" stroke="#3a3a3a" stroke-width="0.9"/><line x1="3.6" y1="-7.5" x2="3.6" y2="7.5" stroke="#3a3a3a" stroke-width="0.9"/></g>
<g transform="translate(707.9 635.60)"><circle r="9.2" fill="#d2d2d2" stroke="#2a2a2a" stroke-width="1.5"/><circle r="6.4" fill="none" stroke="#4a4a4a" stroke-width="1.1"/><circle r="3.8" fill="#ececec" stroke="#333" stroke-width="1.1"/><line x1="-9.8" y1="0" x2="9.8" y2="0" stroke="#1a1a1a" stroke-width="1.6"/><line x1="-3.6" y1="-7.5" x2="-3.6" y2="7.5" stroke="#3a3a3a" stroke-width="0.9"/><line x1="3.6" y1="-7.5" x2="3.6" y2="7.5" stroke="#3a3a3a" stroke-width="0.9"/></g>
<g transform="translate(733.3 635.60)"><circle r="9.2" fill="#d2d2d2" stroke="#2a2a2a" stroke-width="1.5"/><circle r="6.4" fill="none" stroke="#4a4a4a" stroke-width="1.1"/><circle r="3.8" fill="#ececec" stroke="#333" stroke-width="1.1"/><line x1="-9.8" y1="0" x2="9.8" y2="0" stroke="#1a1a1a" stroke-width="1.6"/><line x1="-3.6" y1="-7.5" x2="-3.6" y2="7.5" stroke="#3a3a3a" stroke-width="0.9"/><line x1="3.6" y1="-7.5" x2="3.6" y2="7.5" stroke="#3a3a3a" stroke-width="0.9"/></g>
<g transform="translate(758.5 635.60)"><circle r="9.2" fill="#d2d2d2" stroke="#2a2a2a" stroke-width="1.5"/><circle r="6.4" fill="none" stroke="#4a4a4a" stroke-width="1.1"/><circle r="3.8" fill="#ececec" stroke="#333" stroke-width="1.1"/><line x1="-9.8" y1="0" x2="9.8" y2="0" stroke="#1a1a1a" stroke-width="1.6"/><line x1="-3.6" y1="-7.5" x2="-3.6" y2="7.5" stroke="#3a3a3a" stroke-width="0.9"/><line x1="3.6" y1="-7.5" x2="3.6" y2="7.5" stroke="#3a3a3a" stroke-width="0.9"/></g>
<g transform="translate(788.1 635.60)"><circle r="9.2" fill="#d2d2d2" stroke="#2a2a2a" stroke-width="1.5"/><circle r="6.4" fill="none" stroke="#4a4a4a" stroke-width="1.1"/><circle r="3.8" fill="#ececec" stroke="#333" stroke-width="1.1"/><line x1="-9.8" y1="0" x2="9.8" y2="0" stroke="#1a1a1a" stroke-width="1.6"/><line x1="-3.6" y1="-7.5" x2="-3.6" y2="7.5" stroke="#3a3a3a" stroke-width="0.9"/><line x1="3.6" y1="-7.5" x2="3.6" y2="7.5" stroke="#3a3a3a" stroke-width="0.9"/></g>
<g transform="translate(812.9 635.60)"><circle r="9.2" fill="#d2d2d2" stroke="#2a2a2a" stroke-width="1.5"/><circle r="6.4" fill="none" stroke="#4a4a4a" stroke-width="1.1"/><circle r="3.8" fill="#ececec" stroke="#333" stroke-width="1.1"/><line x1="-9.8" y1="0" x2="9.8" y2="0" stroke="#1a1a1a" stroke-width="1.6"/><line x1="-3.6" y1="-7.5" x2="-3.6" y2="7.5" stroke="#3a3a3a" stroke-width="0.9"/><line x1="3.6" y1="-7.5" x2="3.6" y2="7.5" stroke="#3a3a3a" stroke-width="0.9"/></g>
<g transform="translate(838.3 635.60)"><circle r="9.2" fill="#d2d2d2" stroke="#2a2a2a" stroke-width="1.5"/><circle r="6.4" fill="none" stroke="#4a4a4a" stroke-width="1.1"/><circle r="3.8" fill="#ececec" stroke="#333" stroke-width="1.1"/><line x1="-9.8" y1="0" x2="9.8" y2="0" stroke="#1a1a1a" stroke-width="1.6"/><line x1="-3.6" y1="-7.5" x2="-3.6" y2="7.5" stroke="#3a3a3a" stroke-width="0.9"/><line x1="3.6" y1="-7.5" x2="3.6" y2="7.5" stroke="#3a3a3a" stroke-width="0.9"/></g>
<g transform="translate(603.5 656.76)"><circle r="9.2" fill="#d2d2d2" stroke="#2a2a2a" stroke-width="1.5"/><circle r="6.4" fill="none" stroke="#4a4a4a" stroke-width="1.1"/><circle r="3.8" fill="#ececec" stroke="#333" stroke-width="1.1"/><line x1="-9.8" y1="0" x2="9.8" y2="0" stroke="#1a1a1a" stroke-width="1.6"/><line x1="-3.6" y1="-7.5" x2="-3.6" y2="7.5" stroke="#3a3a3a" stroke-width="0.9"/><line x1="3.6" y1="-7.5" x2="3.6" y2="7.5" stroke="#3a3a3a" stroke-width="0.9"/></g>
<g transform="translate(628.3 656.76)"><circle r="9.2" fill="#d2d2d2" stroke="#2a2a2a" stroke-width="1.5"/><circle r="6.4" fill="none" stroke="#4a4a4a" stroke-width="1.1"/><circle r="3.8" fill="#ececec" stroke="#333" stroke-width="1.1"/><line x1="-9.8" y1="0" x2="9.8" y2="0" stroke="#1a1a1a" stroke-width="1.6"/><line x1="-3.6" y1="-7.5" x2="-3.6" y2="7.5" stroke="#3a3a3a" stroke-width="0.9"/><line x1="3.6" y1="-7.5" x2="3.6" y2="7.5" stroke="#3a3a3a" stroke-width="0.9"/></g>
<g transform="translate(653.5 656.76)"><circle r="9.2" fill="#d2d2d2" stroke="#2a2a2a" stroke-width="1.5"/><circle r="6.4" fill="none" stroke="#4a4a4a" stroke-width="1.1"/><circle r="3.8" fill="#ececec" stroke="#333" stroke-width="1.1"/><line x1="-9.8" y1="0" x2="9.8" y2="0" stroke="#1a1a1a" stroke-width="1.6"/><line x1="-3.6" y1="-7.5" x2="-3.6" y2="7.5" stroke="#3a3a3a" stroke-width="0.9"/><line x1="3.6" y1="-7.5" x2="3.6" y2="7.5" stroke="#3a3a3a" stroke-width="0.9"/></g>
<g transform="translate(682.7 656.76)"><circle r="9.2" fill="#d2d2d2" stroke="#2a2a2a" stroke-width="1.5"/><circle r="6.4" fill="none" stroke="#4a4a4a" stroke-width="1.1"/><circle r="3.8" fill="#ececec" stroke="#333" stroke-width="1.1"/><line x1="-9.8" y1="0" x2="9.8" y2="0" stroke="#1a1a1a" stroke-width="1.6"/><line x1="-3.6" y1="-7.5" x2="-3.6" y2="7.5" stroke="#3a3a3a" stroke-width="0.9"/><line x1="3.6" y1="-7.5" x2="3.6" y2="7.5" stroke="#3a3a3a" stroke-width="0.9"/></g>
<g transform="translate(707.9 656.76)"><circle r="9.2" fill="#d2d2d2" stroke="#2a2a2a" stroke-width="1.5"/><circle r="6.4" fill="none" stroke="#4a4a4a" stroke-width="1.1"/><circle r="3.8" fill="#ececec" stroke="#333" stroke-width="1.1"/><line x1="-9.8" y1="0" x2="9.8" y2="0" stroke="#1a1a1a" stroke-width="1.6"/><line x1="-3.6" y1="-7.5" x2="-3.6" y2="7.5" stroke="#3a3a3a" stroke-width="0.9"/><line x1="3.6" y1="-7.5" x2="3.6" y2="7.5" stroke="#3a3a3a" stroke-width="0.9"/></g>
<g transform="translate(733.3 656.76)"><circle r="9.2" fill="#d2d2d2" stroke="#2a2a2a" stroke-width="1.5"/><circle r="6.4" fill="none" stroke="#4a4a4a" stroke-width="1.1"/><circle r="3.8" fill="#ececec" stroke="#333" stroke-width="1.1"/><line x1="-9.8" y1="0" x2="9.8" y2="0" stroke="#1a1a1a" stroke-width="1.6"/><line x1="-3.6" y1="-7.5" x2="-3.6" y2="7.5" stroke="#3a3a3a" stroke-width="0.9"/><line x1="3.6" y1="-7.5" x2="3.6" y2="7.5" stroke="#3a3a3a" stroke-width="0.9"/></g>
<g transform="translate(758.5 656.76)"><circle r="9.2" fill="#d2d2d2" stroke="#2a2a2a" stroke-width="1.5"/><circle r="6.4" fill="none" stroke="#4a4a4a" stroke-width="1.1"/><circle r="3.8" fill="#ececec" stroke="#333" stroke-width="1.1"/><line x1="-9.8" y1="0" x2="9.8" y2="0" stroke="#1a1a1a" stroke-width="1.6"/><line x1="-3.6" y1="-7.5" x2="-3.6" y2="7.5" stroke="#3a3a3a" stroke-width="0.9"/><line x1="3.6" y1="-7.5" x2="3.6" y2="7.5" stroke="#3a3a3a" stroke-width="0.9"/></g>
<g transform="translate(788.1 656.76)"><circle r="9.2" fill="#d2d2d2" stroke="#2a2a2a" stroke-width="1.5"/><circle r="6.4" fill="none" stroke="#4a4a4a" stroke-width="1.1"/><circle r="3.8" fill="#ececec" stroke="#333" stroke-width="1.1"/><line x1="-9.8" y1="0" x2="9.8" y2="0" stroke="#1a1a1a" stroke-width="1.6"/><line x1="-3.6" y1="-7.5" x2="-3.6" y2="7.5" stroke="#3a3a3a" stroke-width="0.9"/><line x1="3.6" y1="-7.5" x2="3.6" y2="7.5" stroke="#3a3a3a" stroke-width="0.9"/></g>
<g transform="translate(812.9 656.76)"><circle r="9.2" fill="#d2d2d2" stroke="#2a2a2a" stroke-width="1.5"/><circle r="6.4" fill="none" stroke="#4a4a4a" stroke-width="1.1"/><circle r="3.8" fill="#ececec" stroke="#333" stroke-width="1.1"/><line x1="-9.8" y1="0" x2="9.8" y2="0" stroke="#1a1a1a" stroke-width="1.6"/><line x1="-3.6" y1="-7.5" x2="-3.6" y2="7.5" stroke="#3a3a3a" stroke-width="0.9"/><line x1="3.6" y1="-7.5" x2="3.6" y2="7.5" stroke="#3a3a3a" stroke-width="0.9"/></g>
<g transform="translate(838.3 656.76)"><circle r="9.2" fill="#d2d2d2" stroke="#2a2a2a" stroke-width="1.5"/><circle r="6.4" fill="none" stroke="#4a4a4a" stroke-width="1.1"/><circle r="3.8" fill="#ececec" stroke="#333" stroke-width="1.1"/><line x1="-9.8" y1="0" x2="9.8" y2="0" stroke="#1a1a1a" stroke-width="1.6"/><line x1="-3.6" y1="-7.5" x2="-3.6" y2="7.5" stroke="#3a3a3a" stroke-width="0.9"/><line x1="3.6" y1="-7.5" x2="3.6" y2="7.5" stroke="#3a3a3a" stroke-width="0.9"/></g>
<rect x="665.5" y="412" width="6.2" height="253" rx="0" stroke="#1a1a1a" stroke-width="0" fill="#1a1a1a"/>
<rect x="770.7" y="412" width="6.2" height="253" rx="0" stroke="#1a1a1a" stroke-width="0" fill="#1a1a1a"/>
<circle cx="668.6" cy="541" r="7" stroke="#1a1a1a" stroke-width="0" fill="#1a1a1a"/>
<circle cx="773.8" cy="541" r="7" stroke="#1a1a1a" stroke-width="0" fill="#1a1a1a"/>
<circle cx="668.6" cy="474.7" r="3.2" stroke="#1a1a1a" stroke-width="1.6" fill="#fff"/>
<circle cx="773.8" cy="622" r="3.2" stroke="#1a1a1a" stroke-width="1.6" fill="#fff"/>
<path d="M630.5 686 L642 666 Q644 663.5 648 663.5 L795 663.5 Q799 663.5 801 666 L812 686" stroke="#1a1a1a" stroke-width="4.5" fill="#fff"/>
<text x="600" y="684" font-size="14" fill="#222" text-anchor="start" font-weight="bold" textLength="30" lengthAdjust="spacingAndGlyphs">VT⇧</text>
<text x="812" y="684" font-size="14" fill="#222" text-anchor="start" font-weight="bold" textLength="30" lengthAdjust="spacingAndGlyphs">⇩TV</text>
<path d="M530.8 704 L530.8 852 Q530.8 866.5 545 866.5 L583.3 866.5 L583.3 896 L619 896 Q621.5 890 621.5 881 Q621.5 872 617 866.5 L645 866.5 L652 858" stroke="#1a1a1a" stroke-width="2.2" fill="none"/>
<path d="M910.8 704 L910.8 852 Q910.8 866.5 896.5 866.5 L867.5 866.5 Q869 872 869 881 Q869 890 865 896 L828.5 896 L828.5 866.5 L789 866.5" stroke="#1a1a1a" stroke-width="2.2" fill="none"/>
<rect x="595.3" y="867" width="21" height="28.5" rx="0" stroke="#1a1a1a" stroke-width="2.2" fill="none"/>
<line x1="595.5" y1="871" x2="616.5" y2="871" stroke="#666" stroke-width="2.4"/>
<line x1="606" y1="872" x2="606" y2="895" stroke="#1a1a1a" stroke-width="1.5"/>
<line x1="583.5" y1="887" x2="595.3" y2="887" stroke="#1a1a1a" stroke-width="1.5"/>
<rect x="840.8" y="867" width="21" height="28.5" rx="0" stroke="#1a1a1a" stroke-width="2.2" fill="none"/>
<line x1="841" y1="871" x2="862" y2="871" stroke="#666" stroke-width="2.4"/>
<line x1="851.5" y1="872" x2="851.5" y2="895" stroke="#1a1a1a" stroke-width="1.5"/>
<line x1="828.7" y1="887" x2="840.8" y2="887" stroke="#1a1a1a" stroke-width="1.5"/>
<circle cx="554.2" cy="727.2" r="8.3" stroke="#1a1a1a" stroke-width="3.4" fill="#8a8a8a"/>
<circle cx="554.2" cy="727.2" r="4.3" stroke="#222" stroke-width="2.0" fill="#e8e8e8"/>
<circle cx="554.2" cy="727.2" r="1.2" stroke="#1a1a1a" stroke-width="0" fill="#333"/>
<circle cx="888" cy="727.2" r="8.3" stroke="#1a1a1a" stroke-width="3.4" fill="#8a8a8a"/>
<circle cx="888" cy="727.2" r="4.3" stroke="#222" stroke-width="2.0" fill="#e8e8e8"/>
<circle cx="888" cy="727.2" r="1.2" stroke="#1a1a1a" stroke-width="0" fill="#333"/>
<circle cx="853" cy="796" r="27.5" stroke="#1a1a1a" stroke-width="3.2" fill="none"/>
<path d="M652 861 Q652 850 658 850 L784 850 Q790 850 790 861" stroke="#1a1a1a" stroke-width="3.2" fill="none"/>
<path d="M646.7 865 L646.7 930 L681 930" stroke="#1a1a1a" stroke-width="1.6" fill="none"/>
<path d="M794 865 L794 931.3 L729 931.3" stroke="#1a1a1a" stroke-width="1.6" fill="none"/>
<path d="M655.3 854 L655.3 899 L660.7 903 L660.7 914 L648.7 914" stroke="#1a1a1a" stroke-width="3.2" fill="none"/>
<path d="M786.7 854 L786.7 899 L781.3 903 L781.3 914 L793 914" stroke="#1a1a1a" stroke-width="3.2" fill="none"/>
<line x1="730" y1="852" x2="730" y2="931" stroke="#555" stroke-width="1.3"/>
<circle cx="672" cy="872.7" r="10.3" stroke="#1a1a1a" stroke-width="2.6" fill="none"/>
<circle cx="672" cy="872.7" r="5.5" stroke="#444" stroke-width="1.3" fill="none"/>
<circle cx="770" cy="872.7" r="10.3" stroke="#1a1a1a" stroke-width="2.6" fill="none"/>
<circle cx="770" cy="872.7" r="5.5" stroke="#444" stroke-width="1.3" fill="none"/>
<path d="M648 930 L671 942" stroke="#1a1a1a" stroke-width="2.2" fill="none"/>
<path d="M729 934 L770 933 L729 954" stroke="#1a1a1a" stroke-width="2.2" fill="none"/>
<line x1="730" y1="932.5" x2="770" y2="932.5" stroke="#1a1a1a" stroke-width="3.5"/>
<line x1="671" y1="930" x2="671" y2="968" stroke="#1a1a1a" stroke-width="2"/>
<line x1="681" y1="930" x2="681" y2="968" stroke="#1a1a1a" stroke-width="2.4"/>
<path d="M671 968 L728 968" stroke="#1a1a1a" stroke-width="1.5" fill="none"/>
<path d="M681 968 L684 975 L728 975" stroke="#1a1a1a" stroke-width="1.5" fill="none"/>
<path d="M671 958 L668 958 Q666 958 666 960 L666 1087 L728 1087 L731 1084" stroke="#1a1a1a" stroke-width="1.6" fill="none"/>
<line x1="671" y1="958" x2="671" y2="1087" stroke="#1a1a1a" stroke-width="1.8"/>
<line x1="664" y1="1016" x2="664" y2="1086" stroke="#333" stroke-width="2.0" stroke-dasharray="1.2 1.2"/>
<line x1="732" y1="956" x2="732" y2="1086" stroke="#1a1a1a" stroke-width="4.2"/>
<path d="M734 957 L782 959 L782 1230" stroke="#1a1a1a" stroke-width="2.0" fill="none"/>
<path d="M734 1044 L752 1044 L752 1230" stroke="#1a1a1a" stroke-width="2.0" fill="none"/>
<path d="M752 1044 Q760 1070 782 1080" stroke="#1a1a1a" stroke-width="2.0" fill="none"/>
<path d="M722 1096 L663 1096 Q660 1096 660 1100 L660 1230" stroke="#1a1a1a" stroke-width="2.0" fill="none"/>
<path d="M722 1096 L731 1087" stroke="#1a1a1a" stroke-width="2.0" fill="none"/>
<line x1="691" y1="1096" x2="691" y2="1230" stroke="#1a1a1a" stroke-width="2.0"/>
<line x1="733" y1="1087" x2="733" y2="1230" stroke="#1a1a1a" stroke-width="2.0"/>
<circle cx="658" cy="1153" r="2.5" stroke="#1a1a1a" stroke-width="0" fill="#1a1a1a"/>
<circle cx="658" cy="1177" r="2.5" stroke="#1a1a1a" stroke-width="0" fill="#1a1a1a"/>
<rect x="651" y="1228.3" width="139.5" height="5.2" rx="0" stroke="#1a1a1a" stroke-width="0" fill="#1a1a1a"/>
<line x1="1060" y1="392" x2="1190" y2="392" stroke="#1a1a1a" stroke-width="1.5"/>
<line x1="1186" y1="392" x2="1186" y2="915" stroke="#1a1a1a" stroke-width="1.3"/>
<path d="M1184.4 393 L1187.6 393 L1189.25 410 L1182.75 410 Z" fill="#1a1a1a"/>
<path d="M1184.4 914 L1187.6 914 L1189.25 897 L1182.75 897 Z" fill="#1a1a1a"/>
<line x1="1137" y1="914.8" x2="1190" y2="914.8" stroke="#1a1a1a" stroke-width="1.5"/>
<g transform="matrix(0 -1 1 0 0 0)">
<text x="0" y="0" font-size="1" fill="#1a1a1a" transform="matrix(32.211 0 0 34.085 -779.49 1220.66)">3</text>
<text x="0" y="0" font-size="1" fill="#1a1a1a" transform="matrix(36.923 0 0 33.714 -762.05 1220.70)">2</text>
<path d="M-734.27 1197.10 L-731.20 1197.10 L-731.20 1220.70 L-734.27 1220.70 Z M-734.27 1197.10 L-731.81 1199.55 L-738.47 1204.62 L-740.00 1202.32 Z" fill="#1a1a1a"/>
<text x="0" y="0" font-size="1" fill="#1a1a1a" transform="matrix(31.915 0 0 28.148 -724.67 1220.70)">m</text>
<text x="0" y="0" font-size="1" fill="#1a1a1a" transform="matrix(31.915 0 0 28.148 -695.77 1220.70)">m</text>
<text x="0" y="0" font-size="1" fill="#1a1a1a" transform="matrix(29.500 0 0 31.016 -659.67 1218.89)">[</text>
<path d="M-641.77 1197.10 L-638.70 1197.10 L-638.70 1220.70 L-641.77 1220.70 Z M-641.77 1197.10 L-639.31 1199.55 L-646.67 1204.62 L-648.20 1202.32 Z" fill="#1a1a1a"/>
<text x="0" y="0" font-size="1" fill="#1a1a1a" transform="matrix(35.165 0 0 33.714 -634.06 1220.70)">2</text>
<text x="0" y="0" font-size="1" fill="#1a1a1a" transform="matrix(31.579 0 0 35.238 -614.94 1220.70)">.</text>
<text x="0" y="0" font-size="1" fill="#1a1a1a" transform="matrix(34.409 0 0 34.085 -607.32 1220.66)">6</text>
<text x="0" y="0" font-size="1" fill="#1a1a1a" transform="matrix(27.579 0 0 34.085 -587.20 1220.66)">3</text>
<text x="0" y="0" font-size="1" fill="#1a1a1a" transform="matrix(32.222 0 0 32.552 -569.39 1220.70)">i</text>
<text x="0" y="0" font-size="1" fill="#1a1a1a" transform="matrix(30.118 0 0 28.148 -561.06 1220.70)">n</text>
<text x="0" y="0" font-size="1" fill="#1a1a1a" transform="matrix(34.737 0 0 35.238 -543.73 1220.70)">.</text>
<text x="0" y="0" font-size="1" fill="#1a1a1a" transform="matrix(29.500 0 0 31.016 -534.25 1218.89)">]</text>
</g>
<line x1="1059.8" y1="392" x2="1059.8" y2="870" stroke="#1a1a1a" stroke-width="3.0"/>
<line x1="1059.8" y1="868" x2="1059.8" y2="935" stroke="#1a1a1a" stroke-width="2.6"/>
<line x1="1077" y1="393" x2="1077" y2="710" stroke="#1a1a1a" stroke-width="2.6"/>
<line x1="1060" y1="425" x2="1077" y2="425" stroke="#555" stroke-width="1.5"/>
<path d="M1078 393 A59 167 0 0 1 1137.3 560 L1137.3 861" stroke="#1a1a1a" stroke-width="2.4" fill="none"/>
<path d="M1077 450.5 L1102 450.5 L1104 452.5 L1104 462.5 L1102 464.5 L1077 464.5" stroke="#1a1a1a" stroke-width="2.0" fill="none"/>
<line x1="1078" y1="457.5" x2="1103" y2="457.5" stroke="#3a3a3a" stroke-width="3.2"/>
<path d="M1077 512.8 L1113.5 512.8 L1115.5 514.8 L1115.5 524.8 L1113.5 526.8 L1077 526.8" stroke="#1a1a1a" stroke-width="2.0" fill="none"/>
<line x1="1078" y1="519.8" x2="1114.5" y2="519.8" stroke="#3a3a3a" stroke-width="3.2"/>
<rect x="1077" y="575.5" width="40.5" height="17.0" rx="0" stroke="#1a1a1a" stroke-width="0" fill="#1c1c1c"/>
<rect x="1104.5" y="581.0" width="7" height="6" rx="0" stroke="#1a1a1a" stroke-width="0" fill="#fff"/>
<rect x="1113" y="578.5" width="4" height="11.0" rx="0" stroke="#1a1a1a" stroke-width="0" fill="#888"/>
<line x1="1080" y1="581.5" x2="1100" y2="581.5" stroke="#444" stroke-width="1"/>
<path d="M1060.5 577.2 A6.8 6.8 0 0 0 1060.5 590.8 Z" fill="#000"/>
<rect x="1077" y="640" width="40.5" height="16" rx="0" stroke="#1a1a1a" stroke-width="0" fill="#1c1c1c"/>
<rect x="1104.5" y="645.0" width="7" height="6" rx="0" stroke="#1a1a1a" stroke-width="0" fill="#fff"/>
<rect x="1113" y="643" width="4" height="10" rx="0" stroke="#1a1a1a" stroke-width="0" fill="#888"/>
<line x1="1080" y1="645.5" x2="1100" y2="645.5" stroke="#444" stroke-width="1"/>
<path d="M1060.5 641.2 A6.8 6.8 0 0 0 1060.5 654.8 Z" fill="#000"/>
<path d="M1059.6 703.2 L1046.3 703.2 L1046.3 886 Q1046.3 891 1051 891 L1070.4 893.7 L1104.7 865.8" stroke="#1a1a1a" stroke-width="1.6" fill="none"/>
<line x1="1047" y1="711" x2="1059" y2="711" stroke="#888" stroke-width="2.4"/>
<line x1="1046.3" y1="851.8" x2="1137.3" y2="850.8" stroke="#1a1a1a" stroke-width="1.5"/>
<line x1="1059.6" y1="866.6" x2="1137.3" y2="865.6" stroke="#1a1a1a" stroke-width="1.5"/>
<line x1="1098" y1="871" x2="1137.3" y2="870.5" stroke="#444" stroke-width="1.3"/>
<rect x="1047.5" y="872" width="15" height="20" rx="3" stroke="#1a1a1a" stroke-width="2.2" fill="#555"/>
<rect x="1050" y="876" width="9" height="5" rx="0" stroke="#1a1a1a" stroke-width="0" fill="#ddd"/>
<rect x="1050" y="884" width="9" height="4" rx="0" stroke="#1a1a1a" stroke-width="0" fill="#bbb"/>
<rect x="1077" y="705.5" width="60.3" height="7.8" rx="0" stroke="#1a1a1a" stroke-width="0" fill="#9a9a9a"/>
<line x1="1077" y1="705.5" x2="1137.3" y2="705.5" stroke="#1a1a1a" stroke-width="1.5"/>
<line x1="1077" y1="713.3" x2="1137.3" y2="713.3" stroke="#1a1a1a" stroke-width="1.5"/>
<rect x="1132.7" y="713" width="4.6" height="148" rx="0" stroke="#1a1a1a" stroke-width="0" fill="#8a8a8a"/>
<path d="M1137.3 711 L1145 729.7 L1148.2 729.7 L1148.2 862.7 L1137.3 862.7" stroke="#1a1a1a" stroke-width="2" fill="none"/>
<line x1="1137.8" y1="862" x2="1137.8" y2="917" stroke="#1a1a1a" stroke-width="1.6"/>
<line x1="1133" y1="862" x2="1133" y2="917" stroke="#666" stroke-width="1.2"/>
<rect x="1059.6" y="910.9" width="78.4" height="6" rx="0" stroke="#1a1a1a" stroke-width="0" fill="#777"/>
<line x1="1059.6" y1="911" x2="1138" y2="911" stroke="#1a1a1a" stroke-width="2.2"/>
<line x1="1059.6" y1="917" x2="1138" y2="917" stroke="#1a1a1a" stroke-width="2.2"/>
<line x1="1059.6" y1="931.9" x2="1138" y2="931.9" stroke="#1a1a1a" stroke-width="3.4"/>
<line x1="1059.6" y1="917" x2="1059.6" y2="932" stroke="#1a1a1a" stroke-width="2.2"/>
<line x1="1138" y1="917" x2="1138" y2="932" stroke="#1a1a1a" stroke-width="2.2"/>
<path d="M1069.5 933 L1069.5 949 Q1069.5 953 1072.9 953 L1081.2 953 Q1084.6000000000001 953 1084.6000000000001 949 L1084.6000000000001 933" stroke="#1a1a1a" stroke-width="3.2" fill="none"/>
<path d="M1112.3 933 L1112.3 949 Q1112.3 953 1115.7 953 L1124.8 953 Q1128.2 953 1128.2 949 L1128.2 933" stroke="#1a1a1a" stroke-width="3.2" fill="none"/>
<line x1="1059.6" y1="932" x2="1059.6" y2="970" stroke="#1a1a1a" stroke-width="1.6"/>
<line x1="1138" y1="932" x2="1138" y2="970" stroke="#1a1a1a" stroke-width="1.6"/>
<path d="M1038 1044 A65 65 0 1 1 1159 1048" stroke="#1a1a1a" stroke-width="3.2" fill="none"/>
<path d="M1038 1044 A65 65 0 0 0 1070 1080" stroke="#1a1a1a" stroke-width="3.2" fill="none"/>
<path d="M1159 1048 A65 65 0 0 1 1127 1080" stroke="#1a1a1a" stroke-width="3.2" fill="none"/>
<line x1="1038" y1="1044" x2="1038" y2="1228" stroke="#1a1a1a" stroke-width="2.2"/>
<line x1="1159" y1="1048" x2="1159" y2="1228" stroke="#1a1a1a" stroke-width="2.2"/>
<line x1="1070" y1="1079" x2="1070" y2="1228" stroke="#1a1a1a" stroke-width="2.2"/>
<line x1="1127" y1="1079" x2="1127" y2="1228" stroke="#1a1a1a" stroke-width="2.2"/>
<circle cx="1147.5" cy="1138.5" r="7.5" stroke="#1a1a1a" stroke-width="0" fill="#1a1a1a"/>
<circle cx="1147.5" cy="1219" r="7.5" stroke="#1a1a1a" stroke-width="0" fill="#1a1a1a"/>
<rect x="1029.5" y="1227.5" width="138.5" height="5.5" rx="0" stroke="#1a1a1a" stroke-width="0" fill="#222"/>
<line x1="1029.5" y1="1233" x2="1029.5" y2="1258" stroke="#1a1a1a" stroke-width="1.5"/>
<line x1="1168" y1="1233" x2="1168" y2="1258" stroke="#1a1a1a" stroke-width="1.5"/>
<line x1="1029.5" y1="1255" x2="1168" y2="1255" stroke="#1a1a1a" stroke-width="1.5"/>
<path d="M1030.5 1253.4 L1030.5 1256.6 L1047.5 1258.25 L1047.5 1251.75 Z" fill="#1a1a1a"/>
<path d="M1167 1253.4 L1167 1256.6 L1150 1258.25 L1150 1251.75 Z" fill="#1a1a1a"/>
<text x="0" y="0" font-size="1" fill="#1a1a1a" transform="matrix(35.319 0 0 33.099 994.16 1286.92)">8</text>
<text x="0" y="0" font-size="1" fill="#1a1a1a" transform="matrix(32.421 0 0 33.571 1013.35 1286.91)">5</text>
<text x="0" y="0" font-size="1" fill="#1a1a1a" transform="matrix(36.596 0 0 27.222 1030.67 1287.05)">m</text>
<text x="0" y="0" font-size="1" fill="#1a1a1a" transform="matrix(36.596 0 0 27.222 1058.17 1287.05)">m</text>
<text x="0" y="0" font-size="1" fill="#1a1a1a" transform="matrix(31.000 0 0 30.160 1087.08 1285.02)">[</text>
<text x="0" y="0" font-size="1" fill="#1a1a1a" transform="matrix(33.684 0 0 33.099 1095.30 1286.92)">3</text>
<text x="0" y="0" font-size="1" fill="#1a1a1a" transform="matrix(34.737 0 0 34.286 1113.32 1287.05)">.</text>
<text x="0" y="0" font-size="1" fill="#1a1a1a" transform="matrix(29.895 0 0 33.099 1124.15 1286.92)">3</text>
<text x="0" y="0" font-size="1" fill="#1a1a1a" transform="matrix(31.158 0 0 33.571 1141.80 1286.91)">5</text>
<text x="0" y="0" font-size="1" fill="#1a1a1a" transform="matrix(27.778 0 0 32.552 1159.94 1287.05)">i</text>
<text x="0" y="0" font-size="1" fill="#1a1a1a" transform="matrix(37.647 0 0 27.222 1168.10 1287.05)">n</text>
<text x="0" y="0" font-size="1" fill="#1a1a1a" transform="matrix(35.789 0 0 34.286 1184.63 1287.05)">.</text>
<text x="0" y="0" font-size="1" fill="#1a1a1a" transform="matrix(31.000 0 0 30.160 1194.30 1285.02)">]</text>
<line x1="513.3" y1="1306.7" x2="689" y2="1306.7" stroke="#1a1a1a" stroke-width="1.6"/>
<line x1="513.3" y1="1444.4" x2="689" y2="1444.4" stroke="#9a9a9a" stroke-width="2.6"/>
<line x1="515" y1="1307" x2="515" y2="1444" stroke="#1a1a1a" stroke-width="1.5"/>
<path d="M513.4 1308 L516.6 1308 L518.25 1325 L511.75 1325 Z" fill="#1a1a1a"/>
<path d="M513.4 1443 L516.6 1443 L518.25 1426 L511.75 1426 Z" fill="#1a1a1a"/>
<g transform="matrix(0 -1 1 0 0 0)">
<text x="0" y="0" font-size="1" fill="#1a1a1a" transform="matrix(31.277 0 0 35.493 -1445.01 501.65)">8</text>
<text x="0" y="0" font-size="1" fill="#1a1a1a" transform="matrix(28.421 0 0 35.429 -1425.24 501.45)">5</text>
<text x="0" y="0" font-size="1" fill="#1a1a1a" transform="matrix(30.780 0 0 28.889 -1408.00 501.80)">m</text>
<text x="0" y="0" font-size="1" fill="#1a1a1a" transform="matrix(30.780 0 0 28.889 -1379.00 501.80)">m</text>
<text x="0" y="0" font-size="1" fill="#1a1a1a" transform="matrix(23.000 0 0 30.802 -1352.31 499.33)">[</text>
<text x="0" y="0" font-size="1" fill="#1a1a1a" transform="matrix(31.579 0 0 35.493 -1343.76 501.65)">3</text>
<text x="0" y="0" font-size="1" fill="#1a1a1a" transform="matrix(35.789 0 0 38.095 -1326.42 501.50)">.</text>
<text x="0" y="0" font-size="1" fill="#1a1a1a" transform="matrix(28.421 0 0 35.493 -1315.84 501.65)">3</text>
<text x="0" y="0" font-size="1" fill="#1a1a1a" transform="matrix(30.947 0 0 35.429 -1297.54 501.45)">5</text>
<text x="0" y="0" font-size="1" fill="#1a1a1a" transform="matrix(27.778 0 0 33.793 -1277.41 501.50)">i</text>
<text x="0" y="0" font-size="1" fill="#1a1a1a" transform="matrix(30.118 0 0 28.333 -1271.36 501.50)">n</text>
<text x="0" y="0" font-size="1" fill="#1a1a1a" transform="matrix(35.789 0 0 38.095 -1254.62 501.50)">.</text>
<text x="0" y="0" font-size="1" fill="#1a1a1a" transform="matrix(31.000 0 0 30.802 -1244.56 499.33)">]</text>
</g>
<line x1="529.4" y1="1323.8" x2="661" y2="1323.8" stroke="#555" stroke-width="3.6"/>
<line x1="529.4" y1="1335.6" x2="657" y2="1335.6" stroke="#1a1a1a" stroke-width="2.2"/>
<line x1="529.4" y1="1322" x2="533.3" y2="1412" stroke="#1a1a1a" stroke-width="1.5"/>
<line x1="545" y1="1322" x2="550" y2="1413" stroke="#1a1a1a" stroke-width="2.0"/>
<line x1="640" y1="1322" x2="640" y2="1412" stroke="#888" stroke-width="1.4"/>
<line x1="650.6" y1="1337" x2="650.6" y2="1409" stroke="#1a1a1a" stroke-width="3.2"/>
<line x1="533.3" y1="1411" x2="645" y2="1411" stroke="#777" stroke-width="1.8"/>
<line x1="560" y1="1416.7" x2="660" y2="1416.7" stroke="#333" stroke-width="3.2"/>
<rect x="561" y="1410" width="14" height="15.6" rx="0" stroke="#1a1a1a" stroke-width="2" fill="#555"/>
<line x1="568" y1="1411" x2="568" y2="1425" stroke="#1a1a1a" stroke-width="1.6"/>
<rect x="601" y="1417" width="14.6" height="8.6" rx="0" stroke="#1a1a1a" stroke-width="1.6" fill="#fff"/>
<rect x="582" y="1323" width="14.7" height="23.7" rx="0" stroke="#1a1a1a" stroke-width="1.8" fill="#fff"/>
<line x1="582" y1="1335.6" x2="596.7" y2="1335.6" stroke="#555" stroke-width="3"/>
<path d="M605.6 1341 L605.6 1379 Q605.6 1384 611.7 1384 Q617.8 1384 617.8 1379 L617.8 1336" stroke="#1a1a1a" stroke-width="3.2" fill="none"/>
<path d="M605.6 1322 L622 1334.4 L622 1341" stroke="#1a1a1a" stroke-width="3.2" fill="none"/>
<line x1="596.7" y1="1336" x2="610" y2="1342" stroke="#1a1a1a" stroke-width="3"/>
<line x1="784" y1="1323.3" x2="913.3" y2="1323.3" stroke="#555" stroke-width="3.4"/>
<line x1="913.3" y1="1323.3" x2="947" y2="1323.3" stroke="#1a1a1a" stroke-width="1.4"/>
<line x1="784" y1="1335.8" x2="912" y2="1335.8" stroke="#1a1a1a" stroke-width="2.2"/>
<line x1="789.7" y1="1337" x2="789.7" y2="1411" stroke="#1a1a1a" stroke-width="3.2"/>
<line x1="801.5" y1="1337" x2="800" y2="1424" stroke="#666" stroke-width="1.5"/>
<line x1="895.3" y1="1323" x2="892.5" y2="1411" stroke="#1a1a1a" stroke-width="1.5"/>
<line x1="912" y1="1323" x2="908.5" y2="1424" stroke="#666" stroke-width="1.5"/>
<line x1="795" y1="1410.8" x2="907.8" y2="1410.8" stroke="#555" stroke-width="2.6"/>
<path d="M800 1417 Q830 1414 850 1418 Q870 1421 908 1416" stroke="#999" stroke-width="3" fill="none"/>
<line x1="800" y1="1425" x2="947" y2="1425" stroke="#1a1a1a" stroke-width="2.0"/>
<rect x="827" y="1323" width="14" height="24" rx="0" stroke="#1a1a1a" stroke-width="1.8" fill="#fff"/>
<line x1="827" y1="1335.8" x2="841" y2="1335.8" stroke="#555" stroke-width="3"/>
<path d="M850.8 1341 L850.8 1379 Q850.8 1384 857 1384 Q863.3 1384 863.3 1379 L863.3 1336" stroke="#1a1a1a" stroke-width="3.2" fill="none"/>
<path d="M852 1322 L866 1334 L866 1340" stroke="#1a1a1a" stroke-width="3.2" fill="none"/>
<line x1="841" y1="1336" x2="855" y2="1342" stroke="#1a1a1a" stroke-width="3"/>
<line x1="944.6" y1="1323.5" x2="944.6" y2="1425" stroke="#1a1a1a" stroke-width="1.4"/>
<path d="M943.0 1324.5 L946.2 1324.5 L947.85 1341.5 L941.35 1341.5 Z" fill="#1a1a1a"/>
<path d="M943.0 1424 L946.2 1424 L947.85 1407 L941.35 1407 Z" fill="#1a1a1a"/>
<g transform="matrix(0 -1 1 0 0 0)">
<text x="0" y="0" font-size="1" fill="#1a1a1a" transform="matrix(34.409 0 0 33.099 -1431.82 980.17)">6</text>
<text x="0" y="0" font-size="1" fill="#1a1a1a" transform="matrix(32.747 0 0 33.571 -1412.64 980.50)">2</text>
<text x="0" y="0" font-size="1" fill="#1a1a1a" transform="matrix(36.842 0 0 29.524 -1395.92 980.50)">.</text>
<text x="0" y="0" font-size="1" fill="#1a1a1a" transform="matrix(29.053 0 0 33.571 -1384.86 980.16)">5</text>
<text x="0" y="0" font-size="1" fill="#1a1a1a" transform="matrix(29.787 0 0 31.296 -1367.44 980.50)">m</text>
<text x="0" y="0" font-size="1" fill="#1a1a1a" transform="matrix(30.496 0 0 31.296 -1340.48 980.50)">m</text>
</g>
<g transform="matrix(0 -1 1 0 0 0)">
<text x="0" y="0" font-size="1" fill="#1a1a1a" transform="matrix(30.500 0 0 29.733 -1430.63 1010.16)">[</text>
<text x="0" y="0" font-size="1" fill="#1a1a1a" transform="matrix(29.890 0 0 33.714 -1423.29 1012.20)">2</text>
<text x="0" y="0" font-size="1" fill="#1a1a1a" transform="matrix(29.474 0 0 32.381 -1404.05 1012.20)">.</text>
<text x="0" y="0" font-size="1" fill="#1a1a1a" transform="matrix(29.307 0 0 34.203 -1394.89 1012.20)">4</text>
<text x="0" y="0" font-size="1" fill="#1a1a1a" transform="matrix(31.828 0 0 33.521 -1376.29 1012.06)">6</text>
<text x="0" y="0" font-size="1" fill="#1a1a1a" transform="matrix(26.667 0 0 31.310 -1357.93 1012.20)">i</text>
<text x="0" y="0" font-size="1" fill="#1a1a1a" transform="matrix(29.882 0 0 27.407 -1352.04 1012.20)">n</text>
<text x="0" y="0" font-size="1" fill="#1a1a1a" transform="matrix(37.895 0 0 32.381 -1335.61 1012.20)">.</text>
<text x="0" y="0" font-size="1" fill="#1a1a1a" transform="matrix(28.000 0 0 29.733 -1323.14 1010.16)">]</text>
</g>
<rect x="663.5" y="1310" width="17" height="16" rx="0" stroke="#1a1a1a" stroke-width="2" fill="none"/>
<rect x="759" y="1310" width="23" height="27" rx="0" stroke="#1a1a1a" stroke-width="2" fill="none"/>
<rect x="663.5" y="1420" width="17" height="20" rx="0" stroke="#1a1a1a" stroke-width="2" fill="none"/>
<rect x="761" y="1418" width="21" height="22" rx="0" stroke="#1a1a1a" stroke-width="2" fill="none"/>
<path d="M688.4 1306.6 L753.8 1306.6 L788.4 1341 L788.4 1410 L753.8 1444.3 L688.4 1444.3 L653.8 1408.8 L653.8 1341 Z" stroke="#1a1a1a" stroke-width="3.2" fill="#fff"/>
<circle cx="721.1" cy="1375.2" r="51.5" stroke="#b8b8b8" stroke-width="7.5" fill="none"/>
<circle cx="721.1" cy="1375.2" r="55.5" stroke="#444" stroke-width="1.6" fill="none"/>
<circle cx="721.1" cy="1375.2" r="47.5" stroke="#555" stroke-width="1.4" fill="none"/>
<circle cx="721.1" cy="1375.2" r="51.5" stroke="#888" stroke-width="1.0" fill="none" stroke-dasharray="2 2"/>
<path d="M679 1404 A51.5 51.5 0 0 0 691 1415" stroke="#1a1a1a" stroke-width="6" fill="none"/>
<path d="M751 1415 A51.5 51.5 0 0 0 763 1404" stroke="#1a1a1a" stroke-width="6" fill="none"/>
<ellipse cx="758.2" cy="1375" rx="18" ry="28" stroke="#1a1a1a" stroke-width="3" fill="#fff"/>
<rect x="750.2" y="1364.3" width="17.8" height="20.5" rx="0" stroke="#1a1a1a" stroke-width="2" fill="none"/>
<line x1="752" y1="1356" x2="768" y2="1351" stroke="#1a1a1a" stroke-width="3"/>
<line x1="752" y1="1394" x2="768" y2="1399" stroke="#1a1a1a" stroke-width="3"/>
<line x1="749" y1="1358" x2="749" y2="1392" stroke="#1a1a1a" stroke-width="3"/>
<path d="M739.6 1423.9 L760 1484.5 L969.5 1484.5" stroke="#333" stroke-width="1.6" fill="none"/>
<text x="0" y="0" font-size="1" fill="#1a1a1a" transform="matrix(34.184 0 0 34.228 758.05 1520.39)">Ø</text>
<text x="0" y="0" font-size="1" fill="#1a1a1a" transform="matrix(27.097 0 0 32.676 785.80 1519.92)">6</text>
<text x="0" y="0" font-size="1" fill="#1a1a1a" transform="matrix(36.703 0 0 33.143 800.91 1520.25)">2</text>
<text x="0" y="0" font-size="1" fill="#1a1a1a" transform="matrix(42.105 0 0 34.286 820.46 1520.05)">.</text>
<text x="0" y="0" font-size="1" fill="#1a1a1a" transform="matrix(37.730 0 0 26.296 828.90 1520.05)">m</text>
<text x="0" y="0" font-size="1" fill="#1a1a1a" transform="matrix(35.319 0 0 26.296 857.75 1520.05)">m</text>
<text x="0" y="0" font-size="1" fill="#1a1a1a" transform="matrix(30.500 0 0 29.198 894.82 1518.02)">[</text>
<text x="0" y="0" font-size="1" fill="#1a1a1a" transform="matrix(33.050 0 0 34.228 903.99 1520.39)">Ø</text>
<text x="0" y="0" font-size="1" fill="#1a1a1a" transform="matrix(33.187 0 0 33.143 931.39 1520.25)">2</text>
<text x="0" y="0" font-size="1" fill="#1a1a1a" transform="matrix(42.105 0 0 34.286 947.46 1520.05)">.</text>
<text x="0" y="0" font-size="1" fill="#1a1a1a" transform="matrix(34.653 0 0 33.333 957.76 1520.05)">4</text>
<text x="0" y="0" font-size="1" fill="#1a1a1a" transform="matrix(31.485 0 0 33.333 975.82 1520.05)">4</text>
<text x="0" y="0" font-size="1" fill="#1a1a1a" transform="matrix(30.000 0 0 31.724 996.30 1520.05)">i</text>
<text x="0" y="0" font-size="1" fill="#1a1a1a" transform="matrix(39.294 0 0 26.296 1002.60 1520.05)">n</text>
<text x="0" y="0" font-size="1" fill="#1a1a1a" transform="matrix(42.105 0 0 34.286 1020.46 1520.05)">.</text>
<text x="0" y="0" font-size="1" fill="#1a1a1a" transform="matrix(26.000 0 0 29.198 1032.12 1518.02)">]</text>
<text x="0" y="0" font-size="1" fill="#262626" transform="matrix(45.179 0 0 44.783 1100.59 1453.00)">N</text>
<text x="0" y="0" font-size="1" fill="#262626" transform="matrix(38.936 0 0 34.000 1132.54 1452.96)">e</text>
<text x="0" y="0" font-size="1" fill="#262626" transform="matrix(50.196 0 0 36.667 1155.55 1452.93)">t</text>
<text x="0" y="0" font-size="1" fill="#262626" transform="matrix(40.428 0 0 44.783 1191.50 1453.00)">W</text>
<text x="0" y="0" font-size="1" fill="#262626" transform="matrix(39.149 0 0 34.000 1229.73 1452.96)">e</text>
<text x="0" y="0" font-size="1" fill="#262626" transform="matrix(36.667 0 0 42.621 1253.12 1453.00)">i</text>
<text x="0" y="0" font-size="1" fill="#262626" transform="matrix(43.778 0 0 36.779 1262.25 1454.28)">g</text>
<text x="0" y="0" font-size="1" fill="#262626" transform="matrix(40.238 0 0 42.621 1286.18 1453.00)">h</text>
<text x="0" y="0" font-size="1" fill="#262626" transform="matrix(52.941 0 0 36.667 1307.61 1452.93)">t</text>
<path d="M1113.77 1474.20 L1117.70 1474.20 L1117.70 1504.40 L1113.77 1504.40 Z M1113.77 1474.20 L1116.91 1477.34 L1106.86 1483.82 L1104.90 1480.87 Z" fill="#262626"/>
<text x="0" y="0" font-size="1" fill="#262626" transform="matrix(41.042 0 0 43.803 1123.46 1504.36)">0</text>
<text x="0" y="0" font-size="1" fill="#262626" transform="matrix(41.042 0 0 43.803 1146.36 1504.36)">0</text>
<text x="0" y="0" font-size="1" fill="#262626" transform="matrix(41.176 0 0 43.768 1168.59 1504.40)">W</text>
<text x="0" y="0" font-size="1" fill="#262626" transform="matrix(46.316 0 0 34.717 1205.63 1504.40)">:</text>
<text x="0" y="0" font-size="1" fill="#262626" transform="matrix(39.149 0 0 43.803 1217.74 1504.36)">8</text>
<text x="0" y="0" font-size="1" fill="#262626" transform="matrix(54.737 0 0 42.857 1238.17 1504.40)">.</text>
<path d="M1262.37 1474.20 L1266.30 1474.20 L1266.30 1504.40 L1262.37 1504.40 Z M1262.37 1474.20 L1265.51 1477.34 L1256.86 1483.82 L1254.90 1480.87 Z" fill="#262626"/>
<text x="0" y="0" font-size="1" fill="#262626" transform="matrix(41.915 0 0 43.803 1272.51 1504.36)">8</text>
<text x="0" y="0" font-size="1" fill="#262626" transform="matrix(38.889 0 0 45.379 1306.37 1504.40)">l</text>
<text x="0" y="0" font-size="1" fill="#262626" transform="matrix(43.778 0 0 45.306 1316.65 1504.35)">b</text>
</svg>
</body></html>
